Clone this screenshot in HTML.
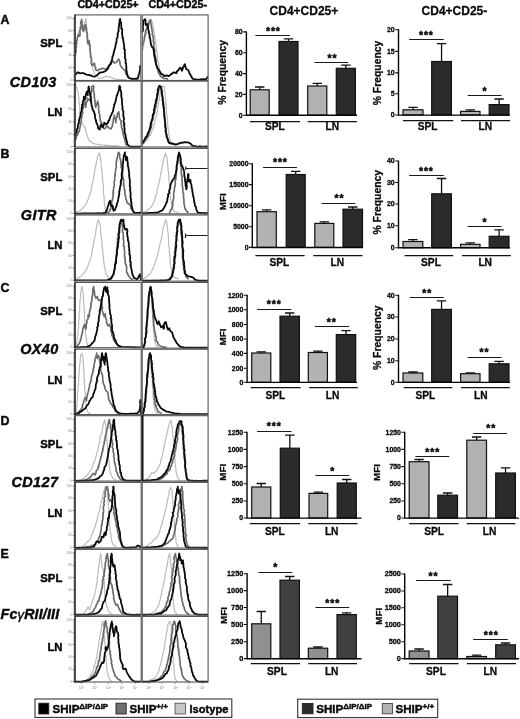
<!DOCTYPE html>
<html lang="en"><head><meta charset="utf-8"><title>Figure</title>
<style>
html,body{margin:0;padding:0;background:#fff;}
body{width:520px;height:719px;overflow:hidden;}
svg{display:block;font-family:'Liberation Sans', Arial, Helvetica, sans-serif;fill:#0a0a0a;}
text.t{font-weight:bold;stroke:#0a0a0a;stroke-width:0.3px;}
text.c{font-weight:bold;stroke:#0a0a0a;stroke-width:0.28px;stroke-linejoin:round;}
text.b{font-weight:bold;stroke:#0a0a0a;stroke-width:0.45px;stroke-linejoin:round;}
</style></head><body>
<svg width="520" height="719" viewBox="0 0 520 719">
<rect width="520" height="719" fill="#fff"/>
<path d="M75.77 56.15 L75.74 54.88 L75.92 53.63 L76.17 51.72 L75.94 51.25 L76.19 49.27 L76.7 48.21 L76.72 46.9 L76.72 45.22 L76.83 44.69 L76.88 43.23 L77.07 41.17 L77.23 40.43 L77.09 38.5 L77.31 37.69 L77.85 36.29 L78.11 35.37 L78.45 34.05 L78.62 32.55 L78.99 31.33 L79.57 29.04 L79.5 27.81 L80.3 26.68 L80.38 25.38 L81.61 26.7 L82.69 28.46 L83.08 27.09 L83.38 26.06 L83.89 25.16 L84.33 23.93 L84.81 22.75 L85.09 20.59 L85.58 20.22 L85.77 18.46 L86.13 19.85 L86.16 20.77 L86.36 22.48 L86.19 23.23 L86.64 25.56 L86.36 26.67 L86.67 27.26 L86.74 29.25 L87.2 29.77 L87.19 31.08 L87.38 32.71 L87.61 34.74 L87.54 36.07 L87.57 36.37 L87.86 37.63 L87.77 39.36 L88.08 40.77 L88.43 41.74 L88.4 43.87 L88.84 45.31 L89.45 46.02 L89.5 47.52 L89.89 48.95 L90.13 50.32 L90.38 51.54 L90.8 52.85 L90.7 54.38 L90.77 55.22 L91.36 56.77 L91.3 57.51 L91.4 59.44 L91.36 60.78 L91.88 61.47 L92.05 63.22 L92.26 64.39 L92.45 66.12 L92.25 66.68 L92.69 68.46 L93.25 70.2 L93.48 70.88 L94.13 71.96 L94.46 73.18 L95 74.62 L95.9 75.66 L96.85 76.45 L97.96 77.24 L98.85 78.46 L100.4 78.3 L101.88 77.82 L103.46 77.69 L105.1 76.75 L106.54 76.15 L107.97 76.62 L109.67 76.94 L111.15 77.69 L112.66 78.14 L114.28 78.7 L115.77 79.23 L117.15 79.26 L118.45 79.45 L119.84 79.51 L121.13 79.56 L122.5 79.67 L123.86 79.85 L125.18 79.88 L126.54 80" fill="none" stroke="#bbbbbb" stroke-width="1.2" stroke-linejoin="round" stroke-linecap="round"/>
<path d="M75.46 53.08 L75.86 51.96 L75.98 50.06 L75.49 48.6 L76.2 47.19 L75.92 46.09 L76.11 44.71 L76.68 42.89 L75.97 42.93 L76.54 40.77 L77.27 40.11 L77.25 38.5 L78.08 35.65 L78.08 34.62 L79.62 36.15 L79.99 35.46 L80.07 33.58 L79.89 31.96 L79.99 30.17 L80.46 29.26 L80.82 27.52 L81.06 27.39 L81.23 26.45 L81.36 24.58 L80.72 23.58 L81.01 21.47 L81.61 20.58 L81.62 19.23 L81.71 21.39 L82.06 21.68 L81.91 23.98 L82.28 25.21 L82.34 25.52 L82.67 28.01 L82.52 29.33 L83.36 30.72 L83.15 31.54 L83.91 29.37 L84.19 29.63 L84.54 27.69 L84.67 25.74 L85.62 24.62 L85.61 26.07 L85.96 27.39 L86.48 27.95 L86.04 29.58 L86.3 30.89 L86.85 33.08 L87.43 35.06 L86.78 35.77 L87.14 36.78 L87.33 38.73 L87.69 39.56 L87.49 40.85 L87.58 42.6 L88.08 43.85 L88.89 42.09 L89.31 40.77 L89.05 41.56 L89.43 43.69 L89.92 44.66 L90.06 46.46 L89.84 47.38 L90.02 49.34 L90.07 50.69 L90.23 51.25 L90.38 53.08 L90.59 54.8 L90.34 55.68 L90.83 57.86 L91.46 58.32 L91.6 60.44 L91.2 61.22 L91.24 63.21 L91.9 64.71 L91.92 65.38 L93.34 64.53 L94.23 63.08 L94.75 64.58 L94.49 66 L94.71 66.59 L95.71 67.8 L95.77 70 L98.08 70.77 L98.86 69.28 L100.38 69.23 L102.27 68.27 L103.46 68.46 L105.77 69.23 L106.49 68.69 L108.08 66.92 L108.89 66 L110.38 63.85 L111.69 62.91 L112.69 60.77 L113.87 62.07 L114.23 63.08 L116.54 62.31 L117.96 59.93 L118.85 59.23 L119.47 60.79 L119.81 61.6 L120.22 64.63 L120.38 65.38 L121.14 66.61 L122.69 68.46 L123.9 69.82 L125 70 L125.28 70.96 L125.8 73.29 L126.54 74.62 L127.86 76.02 L128.85 77.69" fill="none" stroke="#6a6a6a" stroke-width="1.65" stroke-linejoin="round" stroke-linecap="round"/>
<path d="M75.46 74.62 L76.66 73.3 L78.08 72.31 L80.38 73.38 L81.8 73.1 L83.46 73.08 L84.67 73.85 L86.54 74.62 L88.42 74.87 L89.62 75.38 L91.3 75.51 L92.69 76.46 L94.34 76.59 L95.77 76.15 L96.92 75.25 L97.81 74.54 L98.85 73.38 L100.7 72.29 L101.92 72.31 L103.14 72.17 L105 71.23 L106.36 70.34 L107.01 69.73 L108.08 68.46 L108.44 66.86 L109.07 66.14 L109.77 64.34 L110.69 64.26 L111.15 62.31 L111.38 61.35 L111.85 60.31 L112.38 58.09 L112.47 56.42 L113.06 55.71 L113.46 54.62 L113.49 53.05 L113.9 52.36 L114.04 51.36 L114.6 49.39 L114.88 48.42 L115.45 46.63 L115.47 45.55 L115.77 43.85 L116.34 42.34 L116.53 41.89 L116.61 39.38 L116.71 38.81 L117.35 37.85 L117.78 35.36 L117.54 34.04 L118.08 33.08 L118.03 31.99 L118.76 30.89 L118.48 29.41 L118.73 27.29 L119.26 25.34 L118.95 25.12 L119.31 22.94 L119.74 22.03 L119.48 20.07 L120.08 18.92 L120.27 20.19 L120.34 21.64 L121.18 22.63 L121.1 23.48 L121.31 25.38 L121.26 26.95 L121.26 28.6 L122.03 28.63 L122.19 30.37 L122.18 32.28 L121.94 33.45 L122.23 34.46 L122.58 36.35 L122.49 37.67 L123.27 38.94 L123.15 39.45 L123.34 41.23 L123.74 43.16 L123.84 43.76 L124.13 45.88 L124.23 47.08 L124.1 49.03 L124.61 49.13 L124.95 50.49 L124.6 52.74 L124.94 53.81 L125.1 54.98 L124.96 55.86 L124.89 58.05 L125.57 59.1 L125.68 60.14 L125.62 61.69 L125.58 62.91 L126.22 63.77 L126.08 65.51 L126.45 67.09 L126.25 68.57 L126.57 70.57 L126.69 71.54 L126.92 73.52 L127.07 74.02 L127.48 75.33 L128.08 77.23 L129.63 78.15 L131 78.77 L132.28 78.63 L133.69 78.88 L135.13 78.88 L136.44 78.61 L137.77 78.77 L138.11 77.17 L138.55 76.16 L138.7 74.35 L139.31 73.38 L139.69 71.19 L139.86 71.12 L140.13 68.86 L139.97 67.73 L140.08 66.15" fill="none" stroke="#0a0a0a" stroke-width="1.8" stroke-linejoin="round" stroke-linecap="round"/>
<path d="M142.69 50 L143.02 49.24 L143.31 47.22 L143.66 46.14 L143.77 45.12 L143.7 43.89 L144.32 42.3 L144.5 40.98 L144.57 39.78 L144.75 38.46 L145.34 37.12 L145.55 36.4 L145.77 34.62 L146.42 32.9 L146.81 32.11 L146.84 30.51 L147.38 28.88 L147.99 28.49 L148.31 27.11 L148.85 25.38 L149.41 23.75 L149.97 23.03 L150.47 21.93 L150.82 20.29 L151.15 19.23 L151.84 21.24 L152.38 22.24 L152.69 23.85 L153.05 25.15 L152.92 25.98 L153.12 27.47 L153.38 29.12 L153.9 30.48 L153.97 31.92 L154.23 33.08 L154.33 34.44 L154.79 35.77 L154.68 37.71 L155.19 38.52 L155.21 40.1 L155.54 41.16 L155.43 42.55 L156.06 43.87 L156.1 45.33 L156.17 46.7 L156.54 48.46 L156.66 49.46 L156.62 50.77 L156.87 52.55 L156.98 53.41 L157.36 55.2 L157.68 56.17 L157.68 57.92 L157.65 59.91 L158.08 60.77 L158.14 61.64 L158.5 63.04 L158.8 64.56 L158.75 65.55 L159.3 67.12 L159.55 68.64 L159.62 70 L160.32 71.01 L160.4 72.2 L161.17 73.83 L161.38 74.51 L161.92 76.15 L163.13 77.58 L164.23 78.46 L165.53 78.56 L166.73 78.86 L168.08 79.23" fill="none" stroke="#bbbbbb" stroke-width="1.2" stroke-linejoin="round" stroke-linecap="round"/>
<path d="M142.69 45.38 L142.65 43.27 L142.8 43.1 L143.82 41 L144.14 40.21 L144.25 39.73 L144.23 37.69 L144.96 35.54 L144.71 35.25 L145.62 32.99 L145.36 33.05 L145.53 30.9 L146.06 30.1 L146.54 28.46 L147.39 26.65 L147.68 26.42 L148.23 24.87 L148.77 23.29 L148.85 22.31 L149.54 20.67 L150.38 20 L150.84 21.38 L150.59 22.23 L151.2 24.42 L151.39 25.44 L151.4 26.43 L151.62 28.46 L152.02 28.92 L152.03 31.56 L152.43 31.69 L152.26 34.35 L152.84 35.74 L153.27 36.28 L153.15 37.69 L153.66 39.5 L153.31 40.23 L153.23 41.66 L154.18 42.52 L153.99 43.91 L153.7 46.27 L154 46.57 L154.07 49.03 L154.62 49.27 L154.69 51.54 L154.64 53.73 L154.82 54.34 L155.2 56.08 L155.56 57.44 L155.69 57.71 L155.56 58.86 L156.33 60.26 L156.23 62.31 L156.07 64.47 L156.49 65.65 L156.65 66.2 L157.04 68.18 L157.65 69.16 L158.05 70.89 L158.08 71.54 L158.71 73.26 L159.57 73.93 L160.38 76.15 L162.08 77.4 L163.46 78.46 L165.47 78.54 L167.31 78.92" fill="none" stroke="#6a6a6a" stroke-width="1.65" stroke-linejoin="round" stroke-linecap="round"/>
<path d="M142.69 31.54 L142.82 30.13 L143.07 28.17 L142.86 27.48 L142.73 26.24 L143.36 24.68 L143.39 23.63 L143.14 21.88 L143.46 20.77 L145 19.23 L145.67 20.51 L145.48 21.64 L145.58 23.31 L146.08 25.38 L147.31 23.85 L147.87 25.53 L148.05 27.26 L148.06 28.49 L148.22 28.99 L148.77 31.08 L148.99 31.73 L148.85 33.08 L149.32 34.21 L149.76 36.31 L149.45 37.62 L149.62 37.56 L150.31 39.16 L150.38 40.77 L150.78 42.53 L150.79 44.24 L151.36 45.28 L151.92 46.92 L153.46 48.46 L153.53 50.2 L154.04 50.81 L153.72 52.18 L154.16 53.17 L154.15 55.61 L154.78 57.3 L155.19 58.49 L155 59.23 L155.28 60.23 L155.62 62.25 L156.17 63.91 L156.54 65.38 L157.2 67.49 L157.91 68.4 L158.85 70 L159.92 71.77 L160.22 72.15 L161.15 73.85 L162.92 74.29 L164.23 76.15 L166.54 75.38 L168.85 76.15 L170.12 75.04 L171.92 73.85 L173.11 72.54 L174.23 72.31 L176.54 73.08 L176.95 71.32 L178.29 70.46 L178.85 69.23 L180.38 67.69 L181.54 69.69 L181.92 70.77 L182.82 68.74 L182.7 67.43 L183.46 66.92 L184.18 65.28 L185 64.15 L185.03 65.5 L185.44 66.39 L185.95 68.44 L186.54 69.23 L188.08 70 L188.78 71.16 L189.25 72.96 L190.38 74.62 L191.23 76.26 L192.09 77.73 L192.69 78.92 L194.57 79.11 L196.54 79.54 L197.89 79.57 L199.18 79.54 L200.5 79.34 L201.76 79.22 L203.15 79.44 L204.51 79.26 L205.77 79.23 L206.74 78.35 L207.62 76.92" fill="none" stroke="#0a0a0a" stroke-width="1.8" stroke-linejoin="round" stroke-linecap="round"/>
<path d="M75.46 84.23 L76.17 85.88 L76.54 87.31 L77 88.87 L77.38 90.04 L78.08 91.92 L78.31 93.81 L78.37 94.51 L78.4 95.91 L78.78 97.26 L79 98.27 L78.78 100.02 L78.97 101.73 L79.15 102.69 L79.47 104.53 L79.49 104.91 L79.61 106.85 L79.69 107.92 L79.95 109.98 L79.76 111.08 L80.04 112.28 L80.47 114.14 L80.38 115 L80.72 115.95 L81.13 117.21 L81.09 119.21 L81.31 119.88 L81.91 121.9 L81.92 122.69 L82.59 124.11 L83.46 125.77 L85 127.31 L85.26 128.44 L85.63 130.91 L85.92 131.63 L86.54 133.46 L86.89 134.54 L87.58 136.81 L88.08 138.08 L89.03 139.76 L89.62 141.15 L90.92 141.46 L91.92 142.69 L93.13 143.53 L94.36 143.58 L95.77 144.23 L97.3 144.27 L98.86 144.33 L100.33 144.89 L101.85 145.01 L103.46 145 L104.95 145.32 L106.57 145.35 L108.03 145.34 L109.65 145.53 L111.15 145.77 L112.66 145.9 L114.27 145.8 L115.81 145.96 L117.3 145.94 L118.85 146.08" fill="none" stroke="#bbbbbb" stroke-width="1.2" stroke-linejoin="round" stroke-linecap="round"/>
<path d="M75.46 139.62 L75.89 139.26 L76.31 136.49 L76.71 135.25 L77.42 135.44 L78.08 133.46 L78.08 131.63 L79.24 131.79 L79.66 129.16 L79.48 129.14 L79.99 127.42 L80.38 125.77 L80.41 123.56 L80.63 123.52 L81.22 121.85 L81.12 120.45 L81.29 119.1 L81.84 117.15 L81.82 117.13 L81.92 115 L82.46 113.1 L82.78 112.97 L82.28 110.62 L82.53 108.92 L83.45 108.24 L83.58 106.39 L83.46 105.77 L83.43 104.9 L84.55 103.58 L84.69 101.15 L85.13 102.74 L85.47 103.5 L85.54 105.66 L85.77 107.31 L85.67 106.17 L86.05 104.68 L86.31 103.02 L86.52 102.21 L87.3 101.5 L87.41 100 L87.31 98.08 L88.85 99.62 L90.38 101.15 L90.33 100.68 L90.46 97.82 L90.8 97.59 L90.8 96.1 L90.89 95.35 L91.18 93.14 L91.39 92.53 L91.94 90.58 L91.59 89.41 L91.4 87.73 L91.92 86.54 L93.46 85.77 L93.89 87.64 L93.3 89.14 L93.72 90.74 L93.82 90.73 L94.1 93.3 L94.12 94.64 L94.49 95.09 L94.24 96.72 L94.54 98.08 L94.62 99.17 L95.03 101.39 L95.14 101.4 L94.99 103.12 L95.52 104.02 L95.22 105.67 L95.77 107.31 L96.04 104.92 L96.73 104.99 L97.18 103.12 L97.62 101.15 L98.09 103.08 L98.34 103.69 L98.31 104.43 L98.66 106.21 L98.47 108.45 L98.48 108.51 L98.85 110.38 L99.33 111.91 L98.86 112.23 L99.29 113.54 L99.91 115.2 L99.6 116.92 L100.01 118.34 L100.31 120.1 L100.38 121.15 L101.1 121.97 L102.35 124.57 L102.69 125.77 L103.09 127.2 L104.23 128.85 L105.61 128.19 L106.54 125.77 L107.3 126.04 L108.85 128.08 L111.15 128.85 L111.6 127.17 L112.43 126.36 L112.39 124.08 L113 122.69 L113.33 122.1 L113.24 119.93 L113.4 119.1 L113.6 118.35 L114.3 116.42 L114.54 115 L114.41 116.06 L115 118.72 L115.31 119.23 L115.96 121.44 L115.77 122.69 L116.01 120.84 L116.03 120.77 L116.1 118.79 L116.76 117.16 L117.11 116.84 L117.41 115.21 L117.31 113.46 L118.85 111.92 L118.83 112.67 L119.28 114.66 L119.31 117.21 L119.58 118.66 L120.08 119.62 L120.86 120.47 L121.22 122.51 L120.97 123.67 L121.62 125.77 L121.46 127.05 L122.02 128.97 L122.68 128.82 L122.55 130.7 L122.61 131.73 L123.15 133.46 L123.25 135.09 L123.63 135.33 L123.83 137.2 L124.44 138.13 L124.87 139.36 L125 141.15 L125.63 142.59 L125.87 143.97 L126.54 145" fill="none" stroke="#6a6a6a" stroke-width="1.65" stroke-linejoin="round" stroke-linecap="round"/>
<path d="M75.46 135 L75.84 133.52 L76.46 132.13 L76.8 129.67 L77.31 128.85 L77.83 128.08 L77.88 126.28 L77.99 125.45 L78.61 123.02 L79 122.89 L78.92 121.56 L79.31 118.91 L79.62 118.08 L80.17 116.28 L80.57 115.13 L80.46 113.51 L81.15 111.92 L81.65 110.57 L81.62 109.87 L81.77 107.96 L82.1 107.17 L82.02 104.68 L82.68 104.1 L82.69 102.69 L82.8 101.78 L83.54 99.68 L83.89 98.61 L83.77 96.54 L84.58 97.74 L85 99.62 L84.87 98.62 L85.7 96.81 L85.75 95.88 L85.83 94.8 L86.33 93.02 L86.54 91.92 L86.84 93.55 L87.77 95 L87.8 93.95 L87.87 92.01 L88.06 90.62 L88.55 88.73 L88.31 87.92 L88.85 86.54 L88.82 87.93 L89.01 88.67 L89.52 91.37 L90 92.1 L89.92 93.46 L90.02 94.09 L90.1 95.8 L90.8 96.81 L90.98 98.7 L90.75 99.67 L91.35 100.87 L91.15 102.69 L91.52 104.25 L91.53 105.33 L92.47 107.77 L92.38 108.85 L93.49 111.03 L94.23 111.92 L94.17 113.53 L94.94 114.05 L94.97 116.53 L95.12 117.47 L95.25 118.6 L95.77 119.62 L95.97 121.04 L96.44 123.03 L97.12 123.85 L97.46 125.14 L97.94 126.28 L98.08 128.08 L99.62 129.62 L100.04 128.41 L100.3 126.2 L100.51 125.8 L101.15 124.23 L101.69 126.18 L102.69 127.31 L103.21 126.49 L104 124.59 L104.23 122.69 L106.23 124.23 L108.08 122.69 L108.44 120.73 L109.05 120.62 L109.8 118.52 L109.65 118.54 L110.38 116.54 L111.35 114.98 L112.11 112.9 L112.69 111.92 L113.06 110.87 L113.43 108.74 L113.39 108.17 L114.32 106.07 L113.95 104.66 L114.9 103.84 L115 102.69 L115.35 102.2 L115.86 99.75 L116.31 98.05 L116.36 97.88 L116.66 95.53 L117.31 95 L117.65 93.41 L118.34 91.73 L118.54 90.87 L118.87 89.64 L119.09 88.13 L119.07 87.01 L119.62 85.77 L120.24 87.06 L120.17 88.71 L120.45 90.09 L121.15 91.92 L121.32 93.38 L121.45 94.36 L121.1 95.32 L121.46 96.98 L121.75 98.47 L122.01 100.39 L122.04 101.99 L122.03 102.88 L121.97 103.69 L122.23 105.77 L122.64 107.09 L122.26 109.09 L122.82 109.92 L122.88 110.45 L123.51 111.83 L123.18 114.48 L123.46 115 L123.28 116.38 L123.69 117.37 L124.17 119.02 L123.56 120.5 L123.68 122.26 L124.5 123.96 L123.96 124.97 L124.29 126.03 L124.41 127.15 L124.69 128.85 L124.55 130.37 L124.67 132.23 L124.79 133.54 L125.06 133.45 L125.66 135.49 L125.83 136.77 L125.77 138.08 L126.26 138.95 L126.67 141.17 L127.19 142.13 L127.31 144.23 L128.37 145.46 L129.62 146.54 L130.99 146.55 L132.32 146.58 L133.65 146.59 L135.01 146.57 L136.34 146.66 L137.68 146.65 L139.03 146.66 L140.38 146.69" fill="none" stroke="#0a0a0a" stroke-width="1.8" stroke-linejoin="round" stroke-linecap="round"/>
<path d="M142.69 144.23 L143.67 143.47 L144.73 142.36 L145.31 141.3 L146.14 140.25 L147.31 139.62 L148.12 138.58 L148.7 136.96 L149.39 135.8 L150.38 135 L150.9 133.45 L151.62 132.51 L151.84 131.08 L152.18 130.13 L153.09 128.44 L153.46 127.31 L153.93 125.69 L153.99 124.27 L154.32 123.32 L154.91 122.09 L154.95 120.76 L155.5 118.97 L155.86 117.66 L156.03 116.25 L156.54 115 L156.85 113.85 L157.23 111.89 L157.45 111.18 L157.58 109.99 L157.49 108.38 L158.14 106.28 L158.21 105.8 L158.27 104.31 L158.84 102.47 L158.85 101.15 L158.91 99.47 L159.54 98.33 L159.51 96.99 L160.11 95.41 L159.86 94.81 L160.28 92.82 L160.9 91.34 L160.67 90.64 L161.15 88.85 L161.78 87 L162.69 85.77 L164.23 86.54 L164.63 87.68 L164.76 89.24 L164.58 90.55 L164.87 92.37 L164.94 93.76 L165.04 95.56 L165.55 96.91 L165.46 98.08 L165.76 98.99 L165.57 100.52 L165.64 102.75 L166.18 104.07 L166.11 104.58 L166.16 105.9 L166.55 107.51 L166.33 109.64 L166.4 111 L166.69 111.92 L166.71 113.49 L166.72 115.13 L167.01 115.91 L167.27 117.56 L167.17 118.43 L167.47 119.71 L167.76 121.44 L167.5 122.81 L167.59 124.18 L167.92 125.77 L168.1 127.01 L168.14 128.23 L168.38 130.11 L168.5 131.45 L168.68 132.08 L168.66 134.23 L168.99 135.06 L169.15 136.54 L169.55 138.27 L169.85 139.08 L170.23 140.04 L170.69 141.92 L171.71 143.06 L172.69 144.23 L173.97 144.46 L175.25 144.83 L176.54 145" fill="none" stroke="#bbbbbb" stroke-width="1.2" stroke-linejoin="round" stroke-linecap="round"/>
<path d="M142.69 143.46 L143.49 142.88 L144.4 141.56 L145.77 139.62 L146.09 138.92 L146.78 136.39 L147.65 136.53 L148.54 135.37 L148.85 133.46 L149.66 131.38 L149.51 130.19 L150.23 129.53 L150.6 128.87 L151.22 127.37 L151.15 125.77 L151.82 124.54 L151.44 123.84 L151.77 121.07 L152.77 120.1 L152.95 118.33 L152.87 118.25 L153.46 116.54 L153.33 115.21 L154.43 113.33 L154.51 112.94 L154.72 111.63 L155.08 108.93 L154.91 108.53 L155.9 106.61 L155.77 105.77 L156.1 103.75 L156.58 102.98 L156.54 102.04 L156.44 100.8 L157.29 99.69 L157.07 97.21 L157.22 97.07 L157.77 95 L157.97 93.52 L158.3 92.79 L158.37 90.86 L159.03 90.37 L158.87 87.82 L159.31 87.31 L161.15 87.31 L161.79 89.26 L161.73 90.21 L162.31 91.8 L161.88 92.74 L162.38 95 L162.4 96.53 L162.57 98.5 L162.98 98.96 L163.14 100.57 L163.26 101.72 L163.33 103.06 L163.76 103.87 L163.62 105.77 L164 106.79 L164.18 107.77 L163.97 109.82 L164.3 110.77 L164.02 112.03 L164.41 114.21 L164.03 114.88 L164.33 117.67 L164.68 118.35 L164.85 119.62 L164.79 121.27 L165.4 122.66 L164.81 123.61 L165.38 124.27 L165.79 126.13 L165.48 128.05 L165.88 129.18 L166.26 130.59 L166.08 131.92 L166.19 132.42 L166.64 134.24 L166.88 135.49 L166.66 136.22 L167.05 137.6 L167.62 139.62 L168.92 141.3 L169.62 142.69 L170.75 143.44 L172.25 143.29 L173.46 144.23" fill="none" stroke="#6a6a6a" stroke-width="1.65" stroke-linejoin="round" stroke-linecap="round"/>
<path d="M142.69 142.69 L143.65 141.01 L144.63 139.56 L145 138.85 L145.6 137.16 L146.83 136.79 L147.31 135 L147.83 133.21 L148.17 132.86 L148.34 131.98 L149.43 130.77 L149.62 128.85 L150.1 127.72 L150.65 125.84 L150.45 124.29 L150.68 124.05 L150.94 122.64 L151.51 121.54 L151.92 119.62 L152.42 118.57 L152.78 116.19 L152.6 115.37 L153.02 114.5 L153.67 113.27 L154 111.85 L153.83 110.2 L154.23 108.85 L154.72 108 L154.7 105.92 L155.19 104.37 L155.69 102.66 L155.79 102.09 L155.72 100.88 L156.23 100.16 L156.54 98.08 L157.07 96.9 L157.28 96.05 L156.93 94.64 L157.68 93.59 L157.85 91.31 L157.62 90.41 L158.08 88.85 L158.46 87.72 L159.31 85.77 L160.85 86.54 L161.12 88.44 L161.16 88.99 L161.82 90.95 L161.61 92.17 L161.92 93.46 L162.03 95.01 L162.24 95.76 L162.77 98.03 L162.75 98.38 L162.45 100.42 L163.1 101.62 L163 102.69 L162.91 104.41 L163.29 105.22 L163.48 106.71 L163.67 108.57 L164.07 108.91 L163.88 111.61 L164.08 112.39 L164.38 112.88 L164.23 115 L164.6 116.56 L164.57 117.43 L164.74 118.5 L164.8 120.08 L165.26 122.33 L165.03 123.61 L165.1 124.61 L165.05 126.51 L165.46 127.31 L165.83 129.04 L165.44 130.46 L165.53 131.37 L166.07 131.88 L166.17 134.52 L166.48 134.92 L166.54 136.54 L167.3 137.85 L167.88 139.46 L168.08 141.15 L168.97 142.9 L170.38 143.46 L171.48 143.5 L173.06 143.66 L174.23 144.23 L176.17 144.36 L178.08 143.92 L179.66 143.16 L181.15 142.69 L182.85 142.79 L184.23 142.08 L186.2 142.39 L188.08 142.38 L190.38 143.46 L191.48 144.56 L192.69 145.77 L194.04 146.15 L195.21 146.22 L196.54 146.54 L197.87 146.57 L199.21 146.5 L200.59 146.5 L201.95 146.53 L203.29 146.58 L204.6 146.57 L205.96 146.5 L207.31 146.54" fill="none" stroke="#0a0a0a" stroke-width="1.8" stroke-linejoin="round" stroke-linecap="round"/>
<path d="M76.54 212.31 L77.74 211.87 L79.12 211.19 L80.38 210.77 L81.54 209.52 L82.41 208.33 L83.46 207.69 L84.15 206.96 L85 205 L85.62 204.39 L86.54 203.08 L86.93 202.22 L87.32 200.92 L88.14 199.59 L88.51 197.47 L88.92 196.81 L89.62 195.38 L89.68 193.64 L90.43 193.16 L90.8 191.8 L90.96 190.52 L91.37 188.85 L91.55 186.95 L91.92 186.15 L91.95 184.51 L92.41 183 L92.95 182.14 L93.08 181.12 L93.05 179.74 L93.71 177.69 L93.51 176.91 L94.19 175.54 L94.23 173.85 L94.44 172.59 L94.53 170.82 L94.96 170.01 L95.03 168.85 L95.25 167.53 L95.62 165.99 L96.2 164.77 L96.27 163.12 L96.54 161.54 L96.81 160.37 L97.09 158.88 L97.74 156.44 L98.08 155.38 L99.15 153.08 L99.81 154.16 L99.74 155.38 L100.38 156.92 L100.28 158.07 L100.81 160.23 L100.92 161.47 L101.18 162.7 L101.09 163.57 L101.12 165.28 L101.3 166.88 L101.52 168.09 L101.79 169.53 L101.92 170.77 L101.85 171.9 L102.25 173.25 L102.35 175.48 L102.31 176.87 L102.55 178.25 L102.61 179.44 L102.81 180.22 L102.83 182.05 L102.91 183.53 L103.27 185.08 L103.15 186.15 L103.42 187.16 L103.46 189.09 L103.69 189.8 L103.37 192.27 L103.57 193.37 L103.79 194.43 L103.81 196.01 L104.2 197.38 L104.19 198.53 L104.25 200.25 L104.23 201.54 L104.58 203.49 L104.43 205.13 L104.94 205.89 L105.07 207.25 L105.31 209.23 L106.23 210.96 L107.31 212.31" fill="none" stroke="#bbbbbb" stroke-width="1.2" stroke-linejoin="round" stroke-linecap="round"/>
<path d="M106.54 212.31 L108.14 212.13 L109.62 211.54 L109.95 209.83 L110.55 208.97 L111.15 207.69 L111.56 206.01 L111.81 205.21 L111.62 204.25 L111.65 202.58 L111.97 200.28 L112.45 199.82 L112.69 198.46 L112.93 196.84 L113.36 196.18 L112.8 193.37 L113.67 192.71 L113.04 190.89 L113.71 189.49 L113.56 188.99 L113.68 187.55 L114.35 186.4 L114.21 184.7 L114.23 183.08 L114.21 181.95 L114.67 180.46 L114.68 179.38 L114.58 177.92 L115.43 175.32 L114.93 175.64 L114.93 173.96 L115.53 171.23 L115.73 169.73 L115.77 169.23 L116.25 167.51 L116.49 167.21 L115.95 164.95 L116.14 164.22 L116.26 161.63 L116.45 161.67 L116.74 159.34 L117.09 158.38 L117.31 156.92 L117.64 156.19 L117.98 153.8 L118.54 152.31 L119.48 153.38 L119.77 155.38 L119.67 157.31 L120 158.73 L120.65 159.11 L120.41 159.94 L121.09 161.87 L120.81 162.71 L121.15 164.62 L121.1 166.63 L121.21 167.41 L121.84 168.69 L121.93 169.82 L121.84 171.92 L122.66 172.81 L122.28 174.78 L122.69 175.38 L122.59 176.16 L123.15 178.72 L123.27 178.78 L123.81 180.24 L123.41 183.1 L123.98 184.05 L123.51 185.59 L123.97 185.44 L124.23 187.69 L124.68 189.81 L124.21 190.3 L125.17 191.43 L124.82 193.58 L125.14 195.32 L125.71 196.41 L125.76 196.57 L125.77 198.46 L126.45 200.14 L126.78 201.66 L127.31 203.08 L128.29 203.3 L129.62 204.62 L130.76 205.91 L130.8 208.55 L131.92 209.23 L133.08 210.93 L134.23 212.31" fill="none" stroke="#6a6a6a" stroke-width="1.65" stroke-linejoin="round" stroke-linecap="round"/>
<path d="M75.46 213.54 L76.8 213.49 L78.14 213.54 L79.48 213.53 L80.82 213.52 L82.16 213.46 L83.5 213.42 L84.86 213.43 L86.2 213.39 L87.53 213.39 L88.91 213.35 L90.23 213.43 L91.58 213.34 L92.95 213.31 L94.23 213.28 L95.6 213.38 L96.93 213.28 L98.31 213.24 L99.59 213.31 L100.94 213.28 L102.29 213.27 L103.69 213.24 L105 213.23 L105.71 211.96 L106.63 210.18 L107.31 209.23 L107.48 207.49 L108.08 205.79 L108.59 204.22 L108.85 203.08 L109.92 200.77 L110.55 201.88 L110.32 202.79 L110.55 204.35 L111.15 206.15 L112.38 205.38 L112.96 206.6 L112.88 208.78 L113.47 209.74 L113.46 210.77 L115 210 L115.34 208.48 L116.03 207.05 L116.54 206.15 L116.8 204.16 L117.1 203.48 L117.78 201.45 L118.08 200 L118.27 198.86 L118.66 196.6 L119.01 195.98 L118.83 195.46 L119.38 193.17 L119.02 191.99 L119.62 190.77 L119.79 189.25 L119.73 188.25 L120.08 187.23 L120.52 185.16 L120.98 184.09 L120.6 182.5 L121.15 181.54 L120.95 180.04 L121.79 179.47 L121.74 176.83 L121.56 175.53 L121.82 174.84 L121.69 173.21 L122.17 172.1 L122.65 170.3 L122.62 168.71 L122.69 167.69 L122.79 166.54 L122.61 164.98 L123.1 163.08 L123.04 162.74 L123.26 160.36 L123.34 159.52 L123.57 157.88 L123.64 156.3 L123.92 155.38 L124.47 154.01 L125 152.31 L124.86 153.99 L125.22 156.15 L125.9 156.33 L125.9 158.21 L125.92 160 L126.07 159.06 L126.85 156.92 L127.35 158.7 L127.31 160.33 L127.42 161.16 L127.67 162.77 L128.01 163.2 L127.67 164.91 L128.08 166.15 L128.3 167.27 L128.67 169.4 L128.69 170.25 L128.85 171.05 L129.09 172.29 L129.32 174.43 L128.98 175.08 L129.31 176.92 L129.5 178.25 L129.68 179.05 L129.93 180.96 L129.69 182.84 L129.93 183.76 L129.79 185.18 L129.69 186.22 L130.43 187.39 L129.95 189.94 L130.38 190.77 L130.39 192.2 L130.67 193.89 L130.56 195.36 L130.42 196.86 L130.77 197.89 L130.87 199.48 L131.04 200.63 L131.1 202.38 L131.58 202.75 L131.46 204.62 L131.97 206.86 L131.87 207.2 L132.65 209.8 L132.69 210.77 L133.75 212.06 L135 213.08 L136.4 212.91 L137.73 212.79 L139.08 212.73 L140.38 212.62" fill="none" stroke="#0a0a0a" stroke-width="1.8" stroke-linejoin="round" stroke-linecap="round"/>
<path d="M143.46 212.31 L144.74 211.65 L146.06 211.38 L147.31 210.77 L148.25 209.4 L149.17 208.49 L150.38 207.69 L151.43 206.81 L152.14 205.66 L152.49 204.11 L153.46 203.08 L154.15 202.14 L154.61 200.79 L154.9 199.41 L155.45 197.72 L155.4 196.28 L155.83 194.91 L156.54 193.85 L156.9 192.21 L157.02 190.63 L157.38 189.71 L157.82 188.79 L157.84 186.65 L158.15 186.01 L158.76 184.33 L159.17 182.22 L159.53 181.2 L159.62 180 L159.94 178.53 L160.26 177.05 L160.26 175.62 L160.76 174.48 L160.71 173 L161.19 171.65 L161.46 170.8 L161.74 169.39 L161.92 167.69 L162.1 166.75 L162.74 165.03 L162.53 163.2 L163.22 162.71 L163.49 160.97 L163.68 159.19 L164 158.82 L164.23 156.92 L164.48 155.76 L165.24 154.52 L165.46 153.08 L165.79 154.07 L166.41 156.11 L166.69 156.92 L167.07 158.16 L167.17 159.96 L167.14 161.24 L167.32 161.98 L167.28 163.9 L167.87 164.5 L167.66 166.15 L168.08 167.69 L168.02 169.33 L168.12 170.55 L168.43 171.68 L168.7 173.16 L168.62 174.8 L168.67 175.65 L169.08 177.66 L168.96 178.76 L169.11 179.93 L169.15 181.54 L169.03 182.99 L169.6 183.89 L169.75 185.6 L169.88 187.43 L169.59 188.22 L170.04 190.46 L170.1 191.42 L170.07 193.04 L170.34 194.49 L170.16 195.88 L170.38 196.92 L170.83 198.35 L170.5 199.27 L171.04 200.88 L171.38 202.46 L171.46 203.27 L171.55 205.23 L171.96 206.79 L171.92 207.69 L172.59 208.98 L173.62 209.99 L174.23 211.54 L175.44 211.78 L176.83 212.21 L178.08 212.62" fill="none" stroke="#bbbbbb" stroke-width="1.2" stroke-linejoin="round" stroke-linecap="round"/>
<path d="M169.62 212.62 L170.27 211.63 L170.94 209.64 L171.49 209.36 L171.92 207.69 L172.33 207.03 L172.65 205.26 L172.91 203.82 L172.45 202.03 L173.41 200.8 L173.22 200.45 L173.46 198.46 L173.78 197.6 L173.74 195.71 L173.54 193.77 L173.77 192.99 L174.25 190.77 L174.51 189.44 L174.44 187.92 L174.67 186.75 L175.24 185.75 L175 184.62 L175.45 183.13 L175.15 182.46 L175.26 180.49 L175.74 179.97 L175.95 176.88 L175.88 177.12 L176.4 174.69 L175.9 173.12 L176.62 171.58 L176.54 170.77 L177.04 168.96 L177.02 168.35 L176.77 166.65 L177.27 164.82 L177.34 164.08 L177.87 162.07 L177.32 161.09 L177.86 159.67 L178.29 157.77 L178.08 156.92 L178.49 155.59 L178.63 154.28 L179.31 153.08 L179.51 154.24 L180.05 156.72 L180.47 156.72 L180.18 159.42 L180.54 160 L180.28 160.66 L180.37 163.63 L180.88 164.08 L180.62 166.29 L181.54 167.33 L181.58 168.51 L181.15 169.21 L181.26 170.56 L181.43 171.77 L181.24 174.7 L181.77 175.38 L182.18 177.25 L181.83 177.9 L182.09 179.81 L181.97 180.61 L182.29 182.51 L182.2 182.3 L182.35 185.19 L182.23 186.03 L182.29 186.69 L182.83 187.69 L182.77 189.86 L182.8 191.47 L183 192.31 L183.45 193.28 L183.51 195.5 L183.5 196.57 L183.61 198.21 L183.86 198.73 L183.96 200.89 L183.92 202.59 L183.93 203.34 L184.23 204.62 L184.68 206.15 L184.72 207.61 L185.09 208.71 L185.77 210 L186.9 211.31 L188.08 212.31" fill="none" stroke="#6a6a6a" stroke-width="1.65" stroke-linejoin="round" stroke-linecap="round"/>
<path d="M142.69 213.23 L144.07 213.28 L145.36 213.23 L146.73 213.12 L148.03 213.15 L149.39 212.99 L150.75 212.94 L152.09 212.91 L153.46 212.92 L155 212.68 L156.58 212.67 L158.08 212.31 L159.75 211.46 L161.23 210.96 L162.69 210 L163.62 208.51 L163.98 207.72 L165.13 205.72 L165.77 204.62 L166.29 202.64 L166.77 202.69 L167.3 200.15 L167.46 199.94 L167.41 198.38 L168.08 196.92 L168.08 195.19 L168.21 194.01 L169.13 193.22 L169.34 192.55 L169.08 191.07 L169.62 189.23 L170.32 187.93 L170.25 185.63 L170.72 184.41 L171.15 183.08 L171.73 181.82 L172.69 180 L174.23 178.46 L174.7 176.79 L174.69 175.9 L175.31 174.62 L175.72 173.5 L175.91 172.48 L176.25 170.37 L176.49 169.34 L176.54 167.69 L176.59 165.84 L176.79 165.4 L177.27 163.42 L177.28 161.74 L177.5 161.02 L177.81 160.36 L177.77 158.46 L177.72 157.67 L178.12 156.13 L179.08 153.4 L179 152.31 L179.24 153.28 L180.15 155.8 L180.23 156.92 L180.85 158.95 L180.61 160.44 L180.85 161.27 L181.16 163.4 L181.46 164.62 L181.93 165.87 L182.69 166.92 L183.16 168.68 L183.49 169.36 L183.92 170.77 L184.12 172.03 L184.42 172.78 L184.13 173.99 L184.47 176.6 L184.77 177.58 L185.19 179.2 L185 180 L185.01 180.87 L185.38 182.2 L185.6 183.28 L185.62 185.63 L185.68 186.03 L186.25 187.42 L186.23 189.23 L186.71 188.09 L186.85 186.65 L186.68 184.89 L186.49 184.68 L186.78 181.97 L187.5 181.38 L187.31 180 L187.6 179.13 L187.95 176.54 L187.83 175.63 L188.23 173.85 L188.56 174.95 L188.4 176.94 L188.43 178.95 L189.1 179.44 L189.15 181.54 L190.38 180 L190.69 181.69 L190.55 182.96 L191.36 184.54 L191.55 185.73 L191.62 187.69 L192.27 189.24 L192.17 189.47 L192.27 190.74 L192.59 192.3 L192.69 193.79 L193.15 195.38 L193.13 196.32 L193.67 197.36 L193.97 199.95 L194.36 201.24 L194.12 202.05 L194.69 203.08 L194.87 205.31 L195.46 206.51 L196.07 207.1 L196.23 209.23 L197 211.17 L198.08 212.62 L199.66 212.8 L201.1 212.92 L202.69 213.23 L204.26 213.26 L205.76 213.26 L207.31 213.23" fill="none" stroke="#0a0a0a" stroke-width="1.8" stroke-linejoin="round" stroke-linecap="round"/>
<path d="M185.77 168.5 H207.62 M185.77 166.46 V169.85" fill="none" stroke="#1c1c1c" stroke-width="1.15"/>
<path d="M76.54 278.85 L77.89 277.84 L79.18 277.6 L80.38 276.54 L81.48 275.97 L82.2 274.81 L82.94 274.09 L84.16 272.74 L85 271.92 L85.37 270.34 L86.18 269.92 L86.83 268.63 L87.29 266.73 L88.08 265.77 L88.32 264.29 L89.01 263.12 L89.13 262.22 L89.59 261.19 L90.11 259.88 L90.34 258.15 L90.74 257.56 L91.15 255.77 L91.69 254.5 L91.73 252.61 L92.22 251.85 L92.26 250.02 L92.58 249.27 L92.76 247.43 L93.18 246.34 L93.46 245 L93.42 243.13 L93.85 242.46 L94.09 240.31 L94.24 239.13 L94.76 237.78 L95.11 236.46 L94.9 234.78 L95.3 233.94 L95.69 232.72 L95.77 231.15 L96.05 229.38 L96.52 228.31 L96.39 226.95 L96.84 226.2 L96.95 224.48 L97.31 223.46 L97.45 222.28 L98.24 220.48 L98.54 219.62 L98.81 221.17 L99.47 221.78 L99.77 223.46 L100.19 225.07 L100.2 226 L100.49 227.5 L100.46 229.46 L100.72 229.94 L100.49 231.35 L100.64 233.46 L101.02 234.38 L101.15 235.77 L101.22 237.16 L101.4 238.81 L101.53 240.37 L101.9 241.77 L101.99 242.4 L101.95 244.54 L102.05 245.64 L102.11 247.32 L102.32 248.2 L102.73 249.3 L102.69 251.15 L102.57 252.46 L102.97 253.5 L103.09 255.6 L103.52 257.16 L103.62 257.61 L103.54 259.4 L103.51 261.15 L103.8 262.54 L104.17 263.36 L104.23 265 L104.4 266.23 L104.58 267.03 L104.96 268.55 L105.12 270.44 L105.65 271.31 L105.77 272.69 L106.28 274.52 L107.2 275.41 L108.08 277.31 L109.67 278.63 L111.15 279.62" fill="none" stroke="#bbbbbb" stroke-width="1.2" stroke-linejoin="round" stroke-linecap="round"/>
<path d="M108.08 280.08 L109.57 279.48 L111.15 278.85 L112.12 277.33 L112.58 275.26 L113.46 274.23 L113.29 273.65 L114.25 271.09 L114.36 269.83 L114.71 268.88 L114.92 267.88 L115 266.54 L114.78 265.28 L115.45 262.95 L115.04 261.97 L115.82 261.86 L115.72 260.26 L116.11 257.82 L116.03 257.47 L116.22 255.47 L116.58 253.44 L116.54 252.69 L116.62 251.43 L116.84 250.44 L116.69 248.74 L116.98 246.77 L117.39 247.01 L117.3 244.72 L117.25 243.5 L117.37 241.87 L118.01 240.74 L117.46 239.96 L117.4 238.11 L118.01 237.65 L118.08 235.77 L118.09 233.62 L118.88 232.2 L118.58 231.75 L119.28 230.13 L118.81 228.65 L119.12 227.05 L119.78 226.37 L119.62 225 L120.19 223.06 L120.48 222.67 L120.69 220.38 L121.07 222.74 L121.92 223.46 L121.87 225.22 L122.59 226.13 L122.72 227.38 L122.41 229.7 L122.7 229.49 L122.43 231.73 L122.74 232.24 L123.3 234.09 L123.15 235.77 L123.63 236.91 L123.08 238.4 L123.77 240.65 L123.64 240.86 L123.72 242.26 L123.68 243.19 L123.47 246.24 L124.26 246.38 L124.23 247.4 L124.23 249.62 L124.65 251.19 L124.67 252.22 L124.53 254.29 L124.55 254.32 L124.48 257.2 L124.75 257.04 L125.13 258.52 L125.12 261.05 L125.31 261.92 L125.31 263.32 L126.19 265.66 L126.38 265.7 L126.72 268.19 L126.54 269.62 L126.61 271.84 L126.97 273.18 L127.27 272.89 L128.08 275 L129.21 276.67 L130.38 278.08 L131.56 279.02 L132.69 279.62" fill="none" stroke="#6a6a6a" stroke-width="1.65" stroke-linejoin="round" stroke-linecap="round"/>
<path d="M75.46 280.38 L76.8 280.39 L78.16 280.39 L79.52 280.39 L80.85 280.39 L82.21 280.36 L83.57 280.39 L84.91 280.38 L86.28 280.36 L87.61 280.38 L88.98 280.39 L90.31 280.39 L91.69 280.39 L93.01 280.35 L94.4 280.39 L95.72 280.39 L97.08 280.39 L98.43 280.39 L99.78 280.38 L101.13 280.39 L102.5 280.37 L103.82 280.36 L105.2 280.37 L106.54 280.38 L107.77 279.95 L109.09 279.21 L110.38 278.85 L111.65 277.31 L112.69 275.77 L113.43 274.77 L113.87 273.3 L113.98 271.65 L114.54 269.62 L114.75 268.54 L114.75 267.18 L114.86 266.24 L115.16 264.45 L115.91 263.55 L116.14 261.58 L116.08 260.38 L115.9 259.79 L116.26 258.23 L116.52 256.19 L116.79 254.99 L117.16 253.69 L116.84 252.23 L116.95 251.38 L117.19 249.23 L117.62 248.08 L117.82 246.46 L118.2 245.81 L117.89 243.86 L118.35 242.62 L118.41 240.98 L118.49 240.02 L118.89 238.27 L118.95 236.68 L118.85 235.77 L118.82 233.97 L119.46 232.39 L119.09 231.62 L119.56 230.56 L119.23 228.76 L119.84 226.99 L119.5 226.71 L119.54 224.16 L120.08 223.46 L120.19 222.72 L120.67 220.78 L121.15 219.62 L122.23 221.15 L123.46 219.62 L123.65 221.65 L123.4 221.95 L123.84 224.07 L123.78 225.15 L124.29 225.97 L124.38 228.08 L125.62 229.62 L126.85 228.85 L126.87 229.55 L127.48 230.88 L127.04 233.26 L127.25 234.61 L127.49 236.68 L127.77 237.31 L127.98 238.39 L127.82 239.91 L128.45 241.61 L128.55 242.61 L128.89 243.74 L128.73 245.95 L128.85 246.54 L129.21 247.84 L129.35 249.66 L129.08 250.42 L129.59 251.72 L129.4 253.33 L129.31 254.23 L130.18 255.56 L129.92 257.31 L130.32 257.86 L130.08 260.02 L130.23 262.06 L130.9 262.37 L130.4 264.71 L131.08 265.41 L130.65 265.95 L131.15 268.08 L131.61 269.76 L131.74 270.58 L131.9 272.02 L132.32 273.79 L132.69 275 L133.41 276.36 L134.23 278.08 L135.69 278.7 L137.31 279.15 L138.42 277.19 L139.15 275.77 L140.08 274.23 L140.42 275.78 L140.25 276.56 L140.65 278.04 L140.69 279.62" fill="none" stroke="#0a0a0a" stroke-width="1.8" stroke-linejoin="round" stroke-linecap="round"/>
<path d="M143.46 278.85 L144.64 277.85 L146.14 277.22 L147.31 276.54 L148.08 275.29 L149.37 274.46 L150.38 273.46 L150.96 272.5 L152.03 270.52 L152.59 269.15 L153.46 268.08 L153.64 266.88 L154.22 265.62 L154.97 263.92 L155.1 262.65 L155.65 260.99 L156.04 259.96 L156.54 258.85 L156.67 257.85 L157.33 256.1 L157.33 254.99 L157.84 253.8 L158.33 251.72 L158.73 250.74 L158.85 249.6 L159.18 247.51 L159.62 246.54 L159.65 245.32 L160.07 243.47 L160.23 242.8 L160.65 241.55 L161.27 240.16 L161.19 238.95 L161.7 237.5 L161.92 235.77 L162.4 234.22 L162.35 233.51 L162.56 231.29 L162.67 230.45 L163.07 229.53 L163.15 227.58 L163.79 226.46 L163.92 225 L164.49 223.82 L164.9 222.82 L165.28 221.07 L165.46 219.62 L166.02 220.8 L166.69 221.92 L166.69 223 L167.01 224.55 L167.09 225.51 L167.57 227.12 L167.45 228.49 L167.65 230.31 L168.01 231.46 L167.92 232.69 L168.28 233.94 L168.13 235.31 L168.51 236.48 L168.22 238.58 L168.34 239.21 L168.52 241.04 L168.68 242.19 L168.73 243.65 L168.75 245.29 L168.89 246.34 L169.15 248.08 L169.5 249.9 L169.31 250.91 L169.27 251.74 L169.61 254.16 L169.48 255.02 L169.99 255.93 L169.98 257.61 L170.19 259.62 L170.37 260.97 L170.05 262.24 L170.38 263.46 L170.64 264.67 L170.66 266.29 L171 267.64 L171.51 268.88 L171.68 270.21 L171.81 271.97 L171.92 273.46 L172.63 274.72 L173.29 275.76 L174.23 277.31 L175.49 277.63 L176.88 278.43 L178.08 278.85" fill="none" stroke="#bbbbbb" stroke-width="1.2" stroke-linejoin="round" stroke-linecap="round"/>
<path d="M168.08 280.08 L169.14 279.27 L169.98 277.8 L171.15 277.31 L171.16 276.62 L171.81 275.6 L172 273.25 L172.62 272.8 L172.76 270.87 L173.15 269.62 L173.18 267.76 L173.83 267.57 L173.56 264.81 L174.1 264.01 L174.15 262.54 L173.7 261.75 L173.88 260.71 L174.09 258.25 L174.09 256.65 L174.69 255.77 L174.94 253.64 L174.57 252.18 L174.59 251.6 L174.89 250.63 L175.41 248.79 L175.75 248.22 L175.3 246.47 L175.76 244.02 L175.96 242.35 L175.97 242.51 L175.92 240.38 L176.18 239.36 L176.31 237.45 L175.94 236.01 L176.25 235.41 L176.88 234.31 L176.51 232.79 L177.15 229.83 L176.95 228.58 L176.65 227.82 L177.15 226.54 L177.65 224.42 L177.61 223.43 L178.12 221.25 L178.38 220.38 L179.62 219.62 L179.57 220.12 L179.95 223.26 L180.07 224.23 L180.73 225.8 L180.85 226.54 L181.22 227.15 L180.89 229.94 L181.27 231.37 L180.82 232.74 L181.24 234.05 L181.51 234.67 L181.55 235.47 L182.02 238.4 L181.86 239.39 L182.04 240.42 L181.92 241.92 L181.77 243.49 L182.52 245.19 L182.44 245.22 L182.08 246.74 L182.4 249.15 L182.53 249.89 L182.44 250.45 L182.37 253.21 L183.04 253.91 L182.92 254.45 L182.41 255.39 L182.48 257.01 L183 258.85 L183.57 260.35 L183.02 260.85 L182.98 262.07 L183.22 264.02 L183.37 265.2 L183.93 266.38 L183.63 268.91 L183.9 270.02 L184.23 271.15 L184.42 272.85 L184.56 273.43 L185.71 274.82 L185.77 276.54 L186.99 277.39 L188.08 278.85" fill="none" stroke="#6a6a6a" stroke-width="1.65" stroke-linejoin="round" stroke-linecap="round"/>
<path d="M142.69 280.69 L144.02 280.66 L145.4 280.59 L146.77 280.63 L148.11 280.66 L149.51 280.59 L150.82 280.62 L152.21 280.57 L153.56 280.52 L154.93 280.54 L156.3 280.48 L157.59 280.56 L158.99 280.53 L160.36 280.51 L161.68 280.51 L163.07 280.4 L164.38 280.32 L165.77 280.38 L167.01 280.08 L168.3 279.91 L169.62 279.62 L170.96 278.13 L171.92 276.54 L172.36 274.34 L172.7 273.77 L173.07 272.07 L173.27 270.92 L173.69 269.38 L173.77 268.08 L174.18 267.28 L174.1 265.31 L174.4 263.95 L174.76 263.23 L174.54 261.45 L174.38 260.42 L174.94 257.63 L174.61 257.55 L175.38 255.8 L175.31 254.23 L175.34 252.42 L175.52 252.09 L175.75 249.31 L175.52 247.97 L176.16 247.79 L176.32 245.73 L175.94 243.74 L176.01 242.79 L176.23 241.39 L176.61 240.82 L176.54 238.85 L176.56 237.97 L176.62 235.7 L177.15 234.04 L176.69 234.1 L177.13 231.78 L177.49 231.16 L177.3 229.64 L177.23 228.39 L177.58 226.2 L177.77 225 L177.69 222.96 L178.3 221.69 L178.82 221.76 L179 219.62 L180.23 219.62 L180.29 221.37 L180.76 222.5 L181.14 223.63 L181.15 225 L181.52 225.84 L181.51 227.82 L181.24 228.72 L181.94 230.76 L181.69 231.92 L182.08 233.52 L181.69 235.39 L182.29 236.53 L182.29 237.74 L182.23 238.85 L182.17 240.91 L182.57 240.91 L182.73 242.63 L182.21 244.67 L182.43 245.23 L182.4 246.69 L182.84 248.47 L183.26 249.88 L183.11 250.4 L183.41 251.43 L182.99 253.27 L183.12 254.58 L183.31 255.77 L183.1 256.73 L183.13 258.39 L183.41 260.38 L183.52 260.75 L183.99 262.12 L184.19 264.02 L183.74 265.66 L184.53 266.4 L184.23 268.08 L184.58 269.69 L185.21 271.93 L184.8 272.5 L185.46 274.23 L186.63 275.02 L187.31 276.08 L188.85 276.39 L190.38 276.54 L192.69 277.31 L193.67 278.13 L195 279.62 L196.59 280.13 L198.08 280.69 L199.39 280.7 L200.73 280.74 L202.01 280.71 L203.32 280.7 L204.69 280.69 L205.98 280.74 L207.31 280.69" fill="none" stroke="#0a0a0a" stroke-width="1.8" stroke-linejoin="round" stroke-linecap="round"/>
<path d="M185.46 235.5 H207.62 M185.46 233.46 V238.08" fill="none" stroke="#1c1c1c" stroke-width="1.15"/>
<path d="M75.77 346.62 L76.12 345.42 L76.4 343.71 L76.78 342.45 L76.73 340.67 L77.31 339.69 L77.68 338.47 L77.3 337.2 L77.82 335.04 L78.07 333.8 L77.93 333 L78.04 331.22 L78.16 330.14 L78.54 329.03 L78.68 327.57 L78.54 325.85 L78.6 324.37 L78.92 323.67 L78.66 322.2 L78.76 320.08 L78.91 319.69 L79.02 318.28 L79.26 316.94 L79.04 315.75 L79 313.98 L79.08 312.53 L79.6 311.68 L79.73 310.09 L79.55 308.33 L79.62 307.38 L79.71 306.45 L79.74 305.01 L79.83 303.56 L79.88 302.36 L79.94 300 L80.3 299.38 L80.49 297.59 L80.59 295.98 L80.49 294.69 L80.69 293.54 L80.79 291.65 L81.03 290.82 L81.49 289.2 L81.74 287.81 L81.92 286.62 L82.34 287.46 L82.57 289.82 L82.71 290.92 L83.17 291.76 L83.15 293.54 L83.01 294.85 L83.44 296.18 L83.39 297.37 L83.46 299.16 L83.33 300.22 L83.43 301.73 L83.6 302.98 L83.72 304.1 L83.9 305.76 L83.97 306.57 L84.07 307.58 L84.39 308.99 L84.23 310.46 L84.12 311.46 L84.51 313.54 L84.51 314.92 L84.39 316.16 L84.76 316.74 L84.47 318.29 L84.72 319.68 L84.97 320.71 L84.79 322.15 L84.81 323.58 L85.13 324.72 L84.95 326.54 L85 328 L85.31 328.92 L85.51 329.99 L85.31 332.04 L85.46 333.31 L85.87 334.6 L85.83 336.01 L85.99 337.23 L86.52 338.6 L86.21 339.58 L86.54 341.23 L87.01 343.07 L87.66 344.24 L88.08 345.85 L89.24 346.43 L90.38 347.08" fill="none" stroke="#bbbbbb" stroke-width="1.2" stroke-linejoin="round" stroke-linecap="round"/>
<path d="M75.77 347.08 L76.92 345.99 L78.08 345.08 L79.11 343.65 L79.47 342.7 L80.38 341.23 L80.44 339.25 L80.95 339.25 L81.19 336.99 L81.43 336.29 L81.72 334.88 L82.23 333.54 L82.5 331.43 L82.58 331.55 L82.74 330.14 L82.87 328.39 L83.44 327.4 L83.77 325.85 L85 324.31 L84.81 325.17 L85.43 328.14 L85.77 328.92 L86.04 328.03 L86.34 326.72 L86.2 324.97 L86.85 322.77 L86.87 320.72 L87.36 319.54 L88.03 318.94 L88.03 316.16 L88.08 315.08 L89.31 316.62 L89.22 315.19 L89.45 313.47 L89.5 312.23 L89.74 310.64 L89.91 310.84 L90.53 308.91 L90.38 307.38 L91.15 306.64 L90.74 303.49 L91.46 302.77 L91.47 301.48 L92.22 299.23 L92.1 299.26 L91.86 297.87 L92.56 295.31 L92.53 294.64 L92.78 292.71 L92.69 292 L93.07 289.77 L92.73 289.18 L93.25 287.84 L93.62 286.62 L93.59 288.85 L94 289.3 L94.18 291.34 L94.54 292 L94.55 294.31 L94.88 295.75 L95.4 296.79 L95.77 298.15 L97.31 296.62 L97.58 298.47 L98.08 299.69 L98.85 300.46 L100.38 299.69 L101.14 301.95 L101.62 302.77 L102.21 304.63 L101.63 305.98 L101.72 307.28 L102.61 307.39 L101.97 309.92 L102.4 311 L102.69 312 L103.49 314.33 L103.73 315.69 L104.23 316.62 L105.14 315.56 L105.31 313.54 L105.37 315.61 L105.59 316.9 L105.73 317.47 L105.59 318.1 L106.57 320.05 L106.57 321.4 L106.54 322.77 L107.51 324.35 L108.08 325.85 L109.62 324.31 L109.6 325.51 L110.35 326.77 L110.94 328.13 L110.85 330.46 L111.37 332.67 L111.98 332.9 L111.88 335.45 L112.69 336.62 L113.19 337.24 L113.51 339.61 L114 340.27 L115 342 L116.43 343.23 L117.31 345.08 L118.94 345.58 L120.38 346.62" fill="none" stroke="#6a6a6a" stroke-width="1.65" stroke-linejoin="round" stroke-linecap="round"/>
<path d="M75.46 347.38 L76.81 347.3 L78.2 347.3 L79.57 347.29 L80.93 347.16 L82.27 347.1 L83.66 347.1 L85 347.08 L86.53 346.77 L88.17 346.3 L89.62 345.85 L90.6 345.11 L91.85 343.5 L92.69 342.77 L93.42 341.95 L94.62 340.35 L95 338.15 L95.32 336.33 L95.98 335.12 L96.08 334.13 L96.61 332.81 L96.57 332.3 L97 330.46 L97.4 329.94 L97.14 327.23 L97.8 326.5 L98.19 325.13 L97.74 323.83 L98.12 323.03 L98.54 321.23 L98.98 320.47 L98.61 318.64 L98.87 317.96 L99.03 316.09 L99.67 314.02 L99.76 312.55 L99.53 311.46 L100.08 310.46 L99.96 309.05 L100.66 308.5 L100.55 306.47 L101.11 304.89 L101.02 303.66 L101.66 302.33 L101.62 301.23 L102.09 299.38 L101.97 298.33 L102.17 296.84 L102.56 296.61 L103.03 295.61 L103.15 293.54 L103.31 291.69 L103.56 290.45 L103.78 289.41 L104.38 287.38 L105.31 286.62 L105.48 287.23 L105.77 289.19 L105.75 290.34 L106.23 292 L106.78 291.26 L107.13 288.53 L107.46 287.38 L107.27 288.64 L107.62 290.34 L107.98 291.65 L107.93 294.23 L108.38 295.08 L108.88 296.75 L108.99 297.82 L108.97 298.94 L109.04 300.91 L109.21 302.15 L109.27 302.74 L109.31 304.31 L109.7 306.26 L109.4 306.41 L109.38 307.86 L109.67 309.1 L109.81 310.61 L109.97 312.96 L110.38 313.54 L110.19 314.08 L111.03 315.99 L111.04 317.21 L110.61 318.07 L111.49 319.41 L111.26 321.07 L111.46 322.77 L111.75 323.89 L112.06 324.95 L112.02 327.49 L112.19 328.77 L111.98 329.97 L112.43 331.48 L112.69 332 L113.24 333.15 L113.68 334.54 L113.87 337 L114.23 338.15 L114.58 338.98 L115.73 340.73 L116.08 342.77 L117.2 344.13 L118.08 345.54 L119.29 346.21 L120.62 346.49 L121.92 347.08 L123.27 347.18 L124.55 347.19 L125.85 347.19 L127.2 347.13 L128.51 347.16 L129.85 347.2 L131.15 347.25 L132.46 347.2 L133.79 347.32 L135.1 347.27 L136.45 347.29 L137.77 347.32 L139.05 347.38 L140.38 347.38" fill="none" stroke="#0a0a0a" stroke-width="1.8" stroke-linejoin="round" stroke-linecap="round"/>
<path d="M143.46 347.08 L143.94 345.6 L144.15 343.88 L144.37 342.9 L145 341.23 L145.27 339.63 L145.27 338.72 L145.53 337.23 L145.79 335.35 L145.96 334.38 L145.74 333.04 L145.87 331.34 L146.3 330.38 L146.31 328.98 L146.6 327.12 L146.54 325.85 L146.41 325 L146.5 323.12 L146.63 321.89 L147.1 320 L147.05 319.07 L147.25 318.28 L147.35 316.03 L147.28 315.14 L147.28 314.24 L147.49 312.36 L147.51 311.22 L147.94 309.42 L147.87 308.29 L147.73 307.07 L148.08 305.85 L148.28 304.59 L148.6 303.3 L148.68 301.94 L148.67 300.75 L148.89 299.2 L148.72 297.3 L149.14 295.63 L149 295.14 L149.07 293.38 L149.31 292 L149.58 290.62 L150.21 288.44 L150.38 287.38 L150.55 289.31 L150.77 290.99 L150.9 292 L151.07 293.94 L151.46 295.08 L151.52 296.74 L151.71 297.42 L151.87 298.51 L151.98 300.6 L151.68 301.67 L151.8 302.85 L152.2 304.14 L152.07 304.99 L151.86 306.77 L152.13 308.57 L152.28 309.82 L152.35 311.17 L152.38 312 L152.36 312.8 L152.68 314.81 L152.45 315.64 L152.68 317.71 L152.86 318.52 L152.89 319.74 L152.86 320.88 L153.11 322.03 L153.09 323.42 L152.96 325.47 L153.43 326.52 L153.56 328.05 L153.41 329.26 L153.46 330.46 L153.35 331.36 L153.91 333.02 L154.18 334.23 L153.96 335.53 L154.47 337.24 L154.25 338.06 L154.58 339.35 L154.69 341.23 L155.38 342.43 L155.81 344.56 L156.23 345.85 L158.08 347.08" fill="none" stroke="#bbbbbb" stroke-width="1.2" stroke-linejoin="round" stroke-linecap="round"/>
<path d="M143.46 347.38 L143.9 345.9 L144.6 344.26 L145 342.77 L145.07 342.08 L145.09 340.12 L145.02 338.74 L146.04 337.04 L145.98 335.53 L145.81 334.27 L146.42 332.76 L145.82 331.78 L146.46 330.5 L146.54 328.92 L146.6 327.22 L146.92 325.8 L146.6 324.34 L146.51 323.06 L147.16 322.07 L147.05 320.44 L146.97 319.93 L147.67 317.61 L147.54 317.75 L147.5 316.3 L147.27 314.77 L147.29 312.41 L147.38 310.7 L148.06 309.99 L147.92 308.92 L147.91 307.94 L147.92 306.77 L147.98 305.58 L148.71 303.33 L148.87 302.55 L149 300.16 L148.63 298.78 L148.77 297.83 L149.25 296.03 L149.09 294.53 L149.15 293.54 L149.41 291.19 L149.81 290.67 L150.16 289.59 L150.38 287.38 L150.71 288.52 L151.4 290.29 L151.03 292.02 L151.62 293.54 L151.9 294.5 L151.59 295.56 L151.99 297.47 L152.31 298.46 L152.25 299.83 L151.99 301.15 L152.5 303.65 L152.42 305.2 L152.86 306.66 L152.69 307.38 L152.92 308.69 L152.81 310.71 L152.8 311.12 L153.53 313.76 L153.32 314.98 L152.88 316.27 L153.46 316.81 L153.28 318.89 L153.95 320.41 L153.26 321.52 L153.77 322.77 L153.78 323.62 L153.68 325.6 L154.02 326.51 L154.38 328.87 L154.34 329.64 L154.82 331.3 L155.16 331.7 L155 333.54 L155.58 334.06 L155.48 336.53 L156.13 337.11 L156.19 339.02 L155.87 340.4 L156.54 341.23 L157.59 341.9 L157.96 343.71 L158.85 345.08 L160.54 346.16 L161.92 346.62 L163.14 346.83 L164.43 346.99 L165.77 347.38" fill="none" stroke="#6a6a6a" stroke-width="1.65" stroke-linejoin="round" stroke-linecap="round"/>
<path d="M142.69 347.69 L144.23 345.85 L144.31 344.95 L144.94 342.81 L144.99 342.11 L145.07 341.13 L145 338.89 L145.24 338.59 L145.77 336.62 L146.12 335.14 L145.66 334.38 L146.33 333.01 L146.57 331.28 L146.32 330.1 L146.15 328.77 L146.4 326.73 L146.96 324.64 L146.65 324.53 L146.81 323.27 L147 321.23 L147.27 319.49 L147.18 318.39 L147.41 317.67 L147.38 315.34 L147.76 314.21 L147.67 313.94 L147.63 311.4 L147.8 310.17 L147.59 309.05 L147.68 308.34 L148.24 306.82 L148.5 304.93 L148.23 304.31 L148.23 302.66 L148.53 301.84 L148.46 300.09 L148.68 298.58 L148.56 297.87 L148.67 295.98 L148.97 294.6 L149.49 293.84 L149.46 292 L150.06 290.85 L149.9 288.52 L150.1 288.58 L150.69 286.62 L150.83 287.77 L151.04 289.05 L151.14 290.3 L151.62 292 L151.73 293.28 L151.53 294.07 L151.64 295.99 L152.27 297.99 L152.21 298.9 L152.65 300.13 L152.59 300.86 L152.69 302.77 L152.99 304.45 L152.84 305.66 L152.92 306.1 L153.17 308.12 L153.37 308.96 L153.99 311 L153.77 312 L153.9 312.85 L154.56 315.75 L154.87 316.91 L155 318.15 L156.14 320 L156.54 321.23 L156.85 322.72 L157.77 324.31 L158.22 322.89 L158.85 321.23 L158.93 322.72 L159.73 323.43 L159.92 325.08 L160.64 325.98 L161.15 327.38 L162.69 325.85 L163.29 327.33 L163.62 328.92 L164.21 327.33 L163.71 325.16 L164.46 323.66 L164.54 322.77 L165.77 322 L166.29 323.34 L166.26 324.55 L166.97 326.1 L167 327.38 L168.08 329.69 L169.15 328.15 L169.7 329.65 L170.38 331.23 L171.92 332 L172.4 333.47 L172.91 334.93 L173.15 336.62 L173.75 337.55 L174.69 339.69 L175.58 340.72 L176.54 342.77 L177.53 343.81 L178.85 345.54 L179.96 346.51 L181.15 347.08 L182.69 347.23 L184.23 347.48 L185.77 347.69 L187.09 347.73 L188.46 347.75 L189.82 347.66 L191.18 347.64 L192.48 347.65 L193.82 347.65 L195.22 347.65 L196.54 347.65 L197.87 347.64 L199.22 347.67 L200.59 347.75 L201.9 347.69 L203.28 347.75 L204.59 347.71 L205.96 347.69 L207.31 347.69" fill="none" stroke="#0a0a0a" stroke-width="1.8" stroke-linejoin="round" stroke-linecap="round"/>
<path d="M75.77 413.54 L76.02 412.14 L76.14 410.8 L76.43 408.8 L76.42 407.26 L76.97 406.5 L77 404.62 L76.91 403.32 L76.96 401.34 L77.39 400.48 L77.35 398.95 L77.46 397.49 L77.47 396.7 L77.45 394.92 L77.61 393.28 L77.63 391.64 L78.04 390.11 L78.08 389.23 L78.11 388.04 L78.27 386.16 L78.26 385.08 L78.55 384.36 L78.51 382.95 L78.49 381.84 L78.73 380.43 L78.51 378.9 L78.86 377.58 L79.06 375.74 L78.71 374.79 L78.85 373.92 L79.3 372.07 L79.15 370.77 L79.45 369.51 L79.63 368.06 L79.36 367.16 L79.52 364.81 L79.92 364.01 L80.09 362.15 L80.25 361.44 L80.22 359.16 L80.41 358.17 L80.38 356.92 L80.8 355.04 L81.62 353.54 L82.48 355.03 L82.85 356.92 L82.92 358.75 L83.15 359.55 L83.03 361.13 L83.24 362.71 L83.39 363.5 L83.61 365.56 L83.49 366.23 L83.56 368.4 L83.55 369.19 L83.77 370.77 L83.96 372.43 L84.12 373.45 L84.15 374.67 L83.86 376.57 L84.04 378.18 L84.18 378.99 L84.55 380.04 L84.7 381.77 L84.27 383.18 L84.4 384.48 L84.69 386.15 L84.79 387.62 L84.72 389.5 L84.79 389.92 L84.96 391.2 L85.39 392.77 L85.01 394.68 L85.29 395.53 L85.46 396.99 L85.34 398.75 L85.53 399.97 L85.77 401.54 L85.98 403.62 L86.26 404.69 L86.31 406.11 L86.5 408.07 L86.85 409.23 L87.52 410.77 L87.85 411.91 L88.38 413.08 L90.38 414.15" fill="none" stroke="#bbbbbb" stroke-width="1.2" stroke-linejoin="round" stroke-linecap="round"/>
<path d="M75.77 413.85 L77.26 413.07 L78.85 412 L79.87 410.56 L80.09 410.55 L81.22 409.27 L81.92 407.69 L82.62 406.96 L82.34 404.68 L82.96 404.52 L83.67 402.06 L83.52 401.82 L84.23 400 L85.31 397.69 L86.26 398.37 L86.54 400.77 L86.64 398.66 L86.99 397.08 L87.21 395.94 L87.16 395.97 L87.51 394.49 L88.08 392.31 L88.66 390.49 L88.74 389 L89.03 387.83 L89.62 386.15 L89.54 385.03 L90.12 383.03 L90.8 381.93 L90.76 381.42 L91.11 379.89 L91.15 378.46 L91.5 376.79 L92.14 374.6 L92.36 374.46 L92.69 372.31 L92.91 371 L93.38 370.25 L93.3 368.64 L94 367.39 L93.71 366.79 L94.23 364.62 L94.35 363.6 L94.34 362.38 L95.05 361.5 L95.01 358.63 L95.36 358.08 L95.77 356.92 L96.24 355.3 L96.63 354.99 L96.69 353.08 L96.5 355.3 L96.76 355.34 L97.01 357.66 L97.62 358.46 L98.48 356.51 L98.54 355.38 L98.96 357.76 L99.5 358.03 L99.62 360 L99.73 362.07 L100.26 362.61 L100.15 363.18 L100.14 365.83 L99.97 366.05 L100.6 367.05 L100.69 369.23 L100.81 371.23 L101.23 372.3 L101.92 373.85 L102.56 375.43 L102.58 376.14 L102.69 378.52 L102.89 379.96 L103.15 381.54 L103.28 383.28 L104.04 384.98 L104.69 386.15 L104.98 388.43 L105.68 389.83 L106.23 390.77 L107.77 392.31 L108.03 393.45 L108.2 394.99 L108.53 396.68 L108.54 399.36 L109 400 L110.11 401.56 L110.38 403.08 L111.92 404.62 L112.75 406.73 L113.46 407.69 L114.34 408.83 L115 410.65 L115.77 411.54 L117.17 412.48 L118.85 413.54" fill="none" stroke="#6a6a6a" stroke-width="1.65" stroke-linejoin="round" stroke-linecap="round"/>
<path d="M75.46 414.31 L77.1 413.71 L78.85 413.08 L80.22 412.04 L81.92 411.08 L82.73 410.02 L84.31 408.96 L85 408.46 L85.92 407.66 L86.82 405.46 L88.08 404.62 L88.78 403.26 L89.38 401.15 L90.38 400 L91.19 398.09 L92.69 396.92 L93.07 395.53 L93.45 393.89 L94.3 391.96 L94.54 390.77 L95.05 389.9 L95.55 388.59 L95.65 387.14 L95.78 386.27 L95.96 384.14 L96.54 383.08 L96.5 381.81 L97.37 380.74 L96.92 379.84 L97.21 377.46 L97.8 375.9 L98.08 375.38 L98.57 374.4 L98.96 373.05 L98.79 371.11 L98.96 370.46 L99.63 368.47 L99.62 367.69 L100.85 366.15 L100.97 365.09 L100.85 363.87 L100.99 361.99 L101.04 361.64 L101.02 359.31 L101.58 358.32 L101.38 357.01 L101.69 355.77 L101.77 353.85 L101.92 353.08 L102.27 354.19 L102.54 355.58 L102.77 356.83 L102.78 359.37 L102.85 360 L103.15 358.95 L103.77 356.92 L103.99 357.67 L104.21 359.8 L103.98 362.02 L104.67 363.78 L104.69 364.62 L104.53 362.95 L105.02 361.48 L104.8 360.08 L105.18 358.83 L105.32 357.28 L105.5 356.26 L105.43 354.49 L105.77 353.08 L106.26 354.91 L106.43 356.53 L106.41 357.77 L106.86 358.38 L106.85 360 L107.23 361.29 L107.25 362.09 L107.56 363.69 L107.49 365.32 L107.93 367.36 L108.2 368.18 L108.08 369.23 L108.09 370.62 L108.53 371.63 L108.93 372.88 L108.8 375.26 L108.73 375.7 L109.47 377.84 L109.31 378.46 L109.51 380.32 L109.86 380.88 L110.38 383.68 L110.62 384.16 L110.54 386.15 L110.77 387.98 L111.22 389.36 L110.77 390.4 L111.21 390.85 L111.53 392.07 L111.57 393.96 L111.92 395.38 L112.1 396.38 L112.42 397.96 L112.41 398.8 L112.81 399.75 L113.22 402.44 L113.46 403.08 L113.64 405.04 L114.13 405.69 L114.84 407.02 L115 408.46 L115.77 410.2 L116.32 410.76 L117.31 412 L118.8 412.77 L120.38 413.54 L121.93 413.67 L123.44 413.8 L125.05 413.83 L126.54 413.85 L127.9 413.87 L129.18 413.8 L130.57 413.69 L131.95 413.66 L133.32 413.55 L134.58 413.61 L135.91 413.47 L137.31 413.54 L138.52 412 L139.62 410.77 L139.46 409.7 L140.09 408.26 L140 406.38 L140.33 405.84 L140.34 404.1 L139.98 402.65 L140.2 401.54 L140.38 400 L140.14 400.91 L140.52 402.19 L140.25 404.22 L140.53 406.05 L141 407.01 L140.78 408.19 L140.78 409.53 L140.93 411.09 L140.73 412.41 L140.85 413.85" fill="none" stroke="#0a0a0a" stroke-width="1.8" stroke-linejoin="round" stroke-linecap="round"/>
<path d="M143.46 413.54 L143.85 411.84 L144.26 410.77 L144.39 408.89 L144.56 407.46 L145 406.15 L145.26 404.9 L145.28 403.23 L145.38 401.57 L145.49 400.77 L145.43 399.65 L145.57 397.7 L145.87 396.4 L145.99 395.08 L146.01 394 L146.63 392.58 L146.54 390.77 L146.75 389.05 L146.8 388.22 L147 386.77 L147.09 385.28 L146.77 383.8 L147.4 382.67 L147.03 381.17 L147.58 380.56 L147.39 378.41 L147.69 377.04 L147.76 376.18 L147.65 374.41 L147.91 374.04 L147.92 372.31 L148.02 371.34 L148 369.35 L148.25 367.81 L148.68 366.79 L148.26 365.53 L148.47 363.84 L148.96 362.44 L148.78 361.63 L148.9 360.34 L149.15 358.46 L149.2 356.45 L150.04 355.51 L150.08 353.85 L150.38 355.71 L150.5 357.33 L150.76 358.86 L151.15 360 L151.24 361.74 L151.57 362.93 L151.21 363.86 L151.71 365.14 L151.41 366.47 L151.45 367.35 L151.78 368.57 L151.76 370.21 L152.06 371.56 L151.95 373.17 L151.88 374.3 L151.98 375.51 L152.23 376.92 L152.47 378.71 L152.62 379.86 L152.19 380.75 L152.44 381.99 L152.57 383.63 L152.38 384.83 L152.48 386.31 L153.04 387.52 L153.02 389.17 L153.17 389.71 L153.07 391.22 L153.09 392.46 L153.15 393.85 L153.01 395.03 L153.13 397.01 L153.67 397.46 L153.71 399.73 L153.82 400.86 L153.86 401.93 L153.9 402.97 L154 404.47 L154.23 406.15 L154.58 407.48 L154.9 409.58 L155.28 410.46 L155.77 412 L156.98 412.72 L158.08 413.54" fill="none" stroke="#bbbbbb" stroke-width="1.2" stroke-linejoin="round" stroke-linecap="round"/>
<path d="M143 413.85 L143.23 412.35 L143.68 411.11 L144.02 408.96 L144.54 407.69 L144.7 406.54 L144.51 404.14 L145.24 403.09 L145.55 402.71 L145.34 400.01 L145.24 398.52 L145.69 398.11 L145.97 396.36 L146.29 395.91 L146.08 393.85 L146.34 392.55 L146.65 391.25 L145.91 390.64 L146.09 388.4 L146.43 387.98 L146.74 386.12 L147.18 385.43 L146.96 383.31 L146.69 382.82 L147.21 381.57 L147.04 380.35 L146.83 377.84 L147.31 376.92 L147.82 376.02 L147.24 373.86 L147.39 372.96 L147.93 371.51 L147.78 369.14 L147.83 369.3 L148.3 367.31 L148.28 365.55 L147.88 363.8 L148.26 362.06 L148.54 361.54 L148.61 359.88 L148.87 358.72 L149.41 357.58 L149.72 356.32 L149.41 354.78 L149.77 353.54 L150.34 354.55 L150.78 357.66 L151 358.46 L151.33 360.18 L151.55 360.35 L151.42 362.41 L151.21 363.8 L151.21 365.73 L151.38 366.55 L151.5 369.04 L151.75 369.62 L151.68 370.55 L152.23 372.31 L152.26 372.84 L152.8 375.37 L152.15 376.41 L152.34 377.76 L153.04 378.77 L153.2 380.68 L153.13 382.96 L152.83 383.91 L153.61 384.89 L153.11 386.79 L153.46 387.69 L153.56 388.22 L154.1 389.78 L154.09 391.21 L153.97 393.2 L153.94 394.65 L154.72 395.57 L154.52 398.06 L154.24 399.32 L154.69 400 L155.33 401.51 L154.8 402.15 L155.22 403.87 L155.45 405.91 L156.4 405.65 L156.23 407.69 L157.12 408.85 L157.47 410.19 L158.08 411.54 L159.57 412.31 L161.15 413.08" fill="none" stroke="#6a6a6a" stroke-width="1.65" stroke-linejoin="round" stroke-linecap="round"/>
<path d="M142.69 414.15 L143.33 412.36 L143.92 410.77 L143.91 409.27 L144.02 408.34 L144.49 407.19 L144.74 405.69 L144.59 404.04 L144.66 403.33 L145.15 401.54 L145.61 400.41 L145.4 398.47 L145.56 397.82 L145.64 396.14 L145.43 394.17 L145.93 393.83 L145.84 391.86 L146 389.84 L146.09 389.37 L146.38 387.69 L146.39 386.21 L146.63 385.06 L146.81 383.8 L147.14 382.33 L147 381.35 L147.01 379.35 L146.83 378.12 L147.35 377.19 L147.05 374.69 L147.71 374.16 L147.62 372.31 L147.88 370.5 L148.2 369.63 L148.26 368.68 L148.24 366.78 L148.36 364.78 L148.55 364.69 L148.57 362.85 L148.79 361.5 L148.43 360.39 L148.85 358.46 L149.39 356.7 L149.51 355.14 L149.57 354.22 L150.08 353.08 L150.43 354.81 L151.15 356.05 L151.15 356.92 L151.14 357.99 L151.1 359.69 L151.46 361.06 L151.63 362.57 L152.03 363.52 L151.96 365.28 L151.85 366.55 L152.23 367.69 L152.05 368.75 L152.46 370.42 L152.55 372.39 L152.6 373.65 L153.1 374.06 L152.88 376.24 L153.24 377.43 L153.61 378.08 L153.46 380 L153.36 382.13 L153.62 382.87 L153.75 383.44 L154.33 385.79 L154.06 386.08 L154.6 387.72 L154.75 389.02 L154.69 390.77 L155.34 391.47 L155.07 392.89 L155.56 395.07 L155.42 395.97 L156.32 397.01 L156.23 398.46 L156.87 400.15 L156.99 401.78 L157.86 402.44 L158.08 403.85 L158.61 404.51 L159.9 406.52 L160.38 407.69 L161.94 408.72 L163.46 410 L164.48 410.16 L165.82 411.4 L167.31 411.54 L169 411.84 L170.42 412.31 L171.92 412.62 L173.57 413.14 L174.93 413.39 L176.54 413.54 L178.09 413.71 L179.64 413.87 L181.15 414.15 L182.48 414.2 L183.74 414.13 L185.11 414.21 L186.39 414.21 L187.67 414.14 L189.02 414.1 L190.3 414.11 L191.62 414.21 L192.92 414.19 L194.2 414.14 L195.57 414.21 L196.83 414.11 L198.14 414.21 L199.44 414.12 L200.76 414.15 L202.09 414.16 L203.4 414.15 L204.71 414.14 L206.01 414.14 L207.31 414.15" fill="none" stroke="#0a0a0a" stroke-width="1.8" stroke-linejoin="round" stroke-linecap="round"/>
<path d="M80.38 480.31 L81.53 479.45 L82.77 478.71 L83.97 478.09 L85 477.23 L85.85 476.56 L87.24 475.28 L88.08 474.15 L88.72 473.38 L89.5 472.3 L90.59 470.22 L91.15 469.54 L91.58 468.79 L92.35 466.68 L92.65 466.13 L92.94 464.02 L93.83 463 L94.23 461.85 L94.7 460.47 L95 459.46 L95.51 457.58 L95.82 457.24 L96.41 454.98 L96.54 454.15 L96.88 452.51 L97.47 451.26 L97.75 450.09 L98.09 448.42 L98.2 447.67 L98.47 446.01 L98.85 444.92 L99.29 443.16 L99.56 442.71 L99.82 441.12 L99.85 439.62 L100.02 438.07 L100.44 436.52 L100.69 435.69 L100.93 434.34 L101.97 432.84 L102.23 431.08 L102.25 429.11 L102.48 428.1 L103.11 426.42 L102.97 425.41 L103.46 423.38 L104.03 421.75 L104.48 421.29 L104.69 419.54 L104.85 420.95 L104.96 422.07 L105.34 424.06 L105.77 424.92 L106 426.03 L106.12 427.28 L105.85 428.98 L106.38 430.93 L106.2 431.61 L106.38 433.11 L106.63 434.59 L106.49 435.76 L106.77 436.92 L106.85 438.77 L106.78 439.83 L106.9 441.06 L107.2 443.11 L107.18 444.85 L107.3 445.76 L107.6 447.31 L107.87 448.06 L107.51 449.48 L107.64 451.22 L107.99 453.05 L108.08 454.15 L108.41 455.62 L108.37 456.83 L108.33 457.94 L108.54 459.2 L108.83 460.71 L109.15 462.17 L109.18 463.47 L109.02 465.03 L109.31 466.46 L109.58 468.26 L109.64 468.5 L109.85 470.7 L110.1 472.07 L110.41 473.32 L110.85 474.15 L111.38 475.86 L112.06 476.61 L112.69 478 L114.14 478.96 L115.77 480" fill="none" stroke="#bbbbbb" stroke-width="1.2" stroke-linejoin="round" stroke-linecap="round"/>
<path d="M83.46 480.31 L84.99 479.96 L86.54 479.47 L88.08 478.77 L89.59 477.75 L91.15 476.46 L92.4 474.24 L93.46 473.38 L95 474.92 L95.66 473.96 L96.08 471.66 L96.43 470.74 L97.31 469.54 L98.18 468.24 L98 467.05 L98.91 466.48 L98.81 464.55 L99.62 463.38 L99.54 461.72 L100.24 460.18 L100.27 459.96 L100.68 458.57 L100.94 456.19 L101.32 456.03 L101.92 454.15 L101.81 452.36 L102.54 451.49 L103.04 449.93 L102.54 449.4 L103.12 447.79 L103.46 446.46 L103.44 445.96 L104.23 443.44 L104.11 441.94 L104.91 440.67 L104.66 439.53 L105 438.77 L105.24 437.68 L105.29 436.35 L105.92 434.44 L106.46 433.43 L106.34 433.18 L106.54 431.08 L106.98 428.64 L107.77 428 L107.76 425.74 L107.83 425.66 L108.54 422.79 L108.53 421.62 L108.85 420.31 L109.62 419.54 L109.45 420.5 L109.55 423.07 L110.13 423.74 L110.65 425.19 L110.54 426.46 L110.65 428.23 L110.84 428.89 L111.18 429.83 L111.16 431.32 L111.23 432.72 L111.38 434.39 L111.66 435.71 L111.28 437.59 L111.77 438.77 L111.82 440.55 L112.17 440.63 L112.26 442.01 L112.68 444.37 L112.52 445.36 L112.18 446.62 L112.54 447.76 L113.29 449.27 L113 451.08 L113.2 451.95 L113.69 453.06 L114 454.51 L113.55 456.36 L113.79 457.06 L114.42 458.35 L114.15 459.62 L114.54 461.85 L114.39 462.9 L115.11 463.51 L115.26 465.42 L115.99 467.83 L115.91 468.64 L116.08 469.54 L116.16 471.15 L117.44 473.28 L117.77 474.63 L118.08 475.69 L119.13 476.94 L119.46 478.12 L120.38 479.08 L121.87 479.85 L123.46 480.31" fill="none" stroke="#6a6a6a" stroke-width="1.65" stroke-linejoin="round" stroke-linecap="round"/>
<path d="M75.46 480.77 L76.85 480.78 L78.27 480.75 L79.65 480.71 L81.07 480.75 L82.48 480.71 L83.9 480.66 L85.28 480.66 L86.67 480.61 L88.08 480.62 L89.6 480.39 L91.2 480.26 L92.73 480.12 L94.23 480 L95.48 479.29 L96.79 478.81 L98.08 478.46 L99.04 477.79 L100.39 476.09 L101.15 475.69 L102.09 474.78 L102.97 473.12 L103.46 471.08 L104.3 469.53 L104.33 467.52 L105.31 466.46 L106.06 464.75 L106.31 463.7 L106.85 461.85 L107.02 459.93 L107.17 459.45 L107.55 457.62 L107.98 455.45 L108.08 454.15 L108.31 452.62 L108.71 451.23 L108.77 449.44 L109.31 448 L109.86 446.1 L109.97 445.35 L110.38 443.38 L110.72 441.97 L110.49 440.59 L111.23 438.16 L110.99 437.86 L111.46 435.69 L111.68 434.63 L111.6 433.25 L112.27 430.64 L112.6 429.57 L112.69 428 L112.68 427.38 L112.73 424.9 L113.58 424.38 L113.26 423.09 L113.4 420.72 L113.92 419.54 L114.31 420.38 L114.11 422.21 L114.39 423.57 L114.34 425.11 L114.65 426.83 L114.85 428 L114.72 428.8 L115.43 431.29 L115.57 432.84 L115.23 433.58 L115.77 435.69 L116.28 437.04 L116 438.73 L116.08 440.4 L116.63 440.54 L116.85 442.3 L116.65 443.03 L117 444.92 L116.88 446.27 L117.25 448.23 L117.33 449 L117.9 450.63 L117.89 452.13 L118.04 453.36 L118.08 454.15 L118.37 455.01 L118.47 457.18 L118.69 457.99 L118.31 459.56 L119.1 461.36 L119.08 462.05 L119.15 463.38 L119.18 464.43 L119.9 465.71 L119.84 467.66 L120.06 470.33 L120.38 471.08 L120.35 472.8 L121.18 473.06 L121.07 474.77 L121.62 476.46 L122.4 477.91 L123.46 479.54 L125.04 480.21 L126.54 480.62 L127.93 480.62 L129.31 480.62 L130.7 480.64 L132.08 480.67 L133.46 480.7 L134.85 480.7 L136.22 480.71 L137.62 480.7 L139.01 480.77 L140.38 480.77" fill="none" stroke="#0a0a0a" stroke-width="1.8" stroke-linejoin="round" stroke-linecap="round"/>
<path d="M145.77 479.54 L146.98 478.7 L148.39 477.71 L149.62 476.46 L150.35 475.67 L151.02 473.93 L151.92 472.62 L154.23 473.38 L155.28 471.89 L156.27 471.32 L157.31 469.54 L157.81 468.26 L158.66 466.5 L159.62 464.92 L160.11 463.66 L160.57 462.69 L160.51 460.79 L161.28 460.02 L161.54 458.02 L161.92 457.23 L162.04 455.69 L162.51 454.79 L162.65 453.35 L163.16 451.71 L163.56 450.2 L163.8 448.86 L164.09 447.75 L164.23 446.46 L164.42 445.48 L164.74 444.08 L165.09 441.94 L165.28 440.77 L165.47 439.2 L166.01 438.38 L166.35 436.89 L166.54 435.69 L166.57 434.77 L167.25 433.43 L167.36 431.47 L167.92 429.96 L167.99 428.68 L168.14 428.26 L168.54 426.46 L169.13 425.12 L169.08 423.78 L169.92 422.82 L170.08 421.08 L171.15 420.31 L171.13 421.58 L171.58 422.89 L171.73 425 L171.89 426.75 L172.23 428 L172.6 429.13 L172.48 431.01 L172.42 432.18 L172.76 433.91 L172.89 435.34 L173.09 435.91 L173.23 437.69 L173.25 439.06 L173.38 440.37 L173.46 441.85 L173.53 443.64 L173.52 444.5 L173.73 445.5 L173.68 447.4 L174.29 448.91 L173.99 449.73 L174.13 452.13 L174.25 453.41 L174.53 453.99 L174.81 455.77 L174.69 457.23 L174.56 459.04 L175 459.55 L175.01 461.3 L175.03 462.9 L175.5 464.33 L175.26 466.06 L175.62 466.55 L175.87 468.79 L175.98 470.22 L175.92 471.08 L176.29 472.13 L176.84 474.35 L177.21 476.18 L177.31 477.23 L178.5 478.44 L179.62 480" fill="none" stroke="#bbbbbb" stroke-width="1.2" stroke-linejoin="round" stroke-linecap="round"/>
<path d="M158.08 480 L159.72 479.12 L161.12 478.61 L162.69 478 L163.45 476.82 L164.78 475.55 L165.73 474.58 L166.54 474.15 L166.99 473.77 L167.85 470.96 L168.95 470.72 L169.62 469.54 L170.19 469.09 L170.45 467.08 L171.44 465.17 L171.77 464.06 L172.58 462.31 L172.69 461.85 L172.75 460.95 L172.98 459.49 L173.54 458.16 L174.14 456.93 L174.73 454.66 L174.27 453.59 L175 452.62 L174.82 451.04 L175.89 449.42 L175.58 447.74 L176.12 447.08 L176.18 446.67 L176.18 444.77 L176.39 443.97 L176.85 441.85 L177.48 440.26 L177.62 438.57 L177.01 437.62 L177.45 435.92 L177.64 434.61 L177.86 434.14 L177.95 432.56 L178.38 431.08 L179 429.55 L178.64 427.54 L178.97 426.07 L179.62 424.92 L180.43 424.12 L180.85 422.62 L181.11 423.15 L181.53 426.11 L181.72 426.74 L182.08 428 L182.25 429.32 L182.73 429.99 L182.38 432.94 L182.21 434.31 L182.74 434.83 L183.19 437.15 L182.62 437.21 L182.67 438.79 L183.22 440.19 L183.31 441.85 L183.54 442.3 L183.08 444.35 L183.42 445.6 L183.81 447.17 L183.37 447.59 L183.45 450.11 L184.37 451.57 L184.02 452.75 L184.23 452.8 L183.87 455.33 L184.36 456.43 L184.34 457.06 L184.54 458.77 L184.41 460.16 L184.75 461.62 L184.88 463.35 L184.66 465.02 L184.88 465.53 L185.07 466.2 L185.01 467.56 L185.52 469.19 L185.77 471.36 L185.77 472.62 L186.42 473.69 L186.21 476.02 L186.86 477.61 L187 478.77 L188.85 480.31" fill="none" stroke="#6a6a6a" stroke-width="1.65" stroke-linejoin="round" stroke-linecap="round"/>
<path d="M142.69 480.62 L144.26 480.6 L145.73 480.49 L147.32 480.5 L148.84 480.33 L150.38 480.31 L151.87 480.04 L153.4 479.91 L154.94 479.85 L156.54 479.54 L157.97 478.84 L159.53 477.83 L161.15 477.23 L161.92 476.17 L163.3 475.36 L164.03 473.9 L165 473.38 L165.62 472.59 L166.2 470.93 L167.54 469.41 L168.08 468 L168.38 466.29 L169.1 465.68 L169.12 463.88 L170.07 462.15 L170.57 461.77 L170.69 460.31 L170.81 459.68 L171.27 457.89 L171.72 455.77 L171.98 454.47 L172.62 454.42 L172.45 451.92 L173.15 451.08 L173.34 449.84 L173.55 448.66 L174.24 446.44 L173.81 445.66 L174.42 444.76 L174.54 443.61 L175.16 442.28 L175 440.31 L175.12 439.77 L175.5 438.14 L175.91 435.58 L176.28 435.52 L176.22 434.03 L176.21 432.48 L176.54 431.08 L176.74 429.36 L177.09 428.15 L177.71 426.82 L177.48 425.96 L178.08 424.15 L179.01 423.28 L179.62 421.08 L181.15 421.08 L181.59 421.63 L181.47 424.48 L182.21 425 L182.38 426.46 L182.81 427.16 L182.88 428.74 L182.36 431.11 L183.14 431.14 L183.13 434.02 L183.4 434.77 L183.49 436.52 L183.36 438.05 L183.46 438.77 L183.3 439.68 L183.56 442.16 L183.44 442.66 L183.85 445.13 L183.96 446.53 L183.73 446.95 L183.85 448.04 L184.54 449.7 L184.3 451.34 L184.06 453.52 L184.54 454.15 L184.72 456.23 L184.43 457.11 L185.04 458.69 L184.83 460.19 L185.33 461.37 L185.29 461.96 L185.26 464.12 L185.04 465.57 L185.07 467.02 L185.46 468 L185.53 468.54 L185.63 471.07 L185.83 471.98 L186.04 472.57 L186.21 474.51 L186.55 475.56 L186.54 477.23 L187.16 478.97 L188.08 480.31 L189.44 480.34 L190.75 480.58 L192.11 480.63 L193.46 480.77 L194.85 480.78 L196.24 480.73 L197.61 480.78 L199.01 480.78 L200.39 480.78 L201.75 480.78 L203.14 480.77 L204.53 480.73 L205.91 480.77 L207.31 480.77" fill="none" stroke="#0a0a0a" stroke-width="1.8" stroke-linejoin="round" stroke-linecap="round"/>
<path d="M81.92 547 L83.12 545.88 L84.21 545.05 L85.43 543.9 L86.54 542.69 L87.62 541.41 L88.84 540.42 L89.62 539.62 L90.07 538.83 L90.82 537.43 L91.46 535.62 L92.01 534.53 L92.69 533.46 L93.1 532.04 L93.3 530.49 L94.12 529.5 L94.31 528.48 L94.74 527.29 L95.6 525.62 L95.77 524.23 L96.06 523.34 L96.51 521.11 L96.78 520.66 L97.23 519.27 L97.29 518.07 L97.89 516.17 L98.08 515 L98.57 513.63 L98.59 512.56 L99.25 511.45 L99.58 510.39 L99.9 509.08 L100.08 507.31 L100.35 505.81 L100.6 504.59 L100.93 503.43 L101.08 502.24 L101.66 500.73 L101.92 499.62 L102.05 498.87 L102.6 497.39 L102.81 495.3 L102.84 494.73 L103.36 492.84 L103.46 491.92 L104.03 490.66 L104.67 488.42 L105 487.31 L106.23 486.54 L106.59 488.03 L106.89 488.86 L106.97 491.26 L107.23 491.89 L107.22 494.1 L107.46 495 L107.61 496.35 L107.63 497.78 L107.57 499.05 L108.12 500.99 L107.85 502.19 L108.35 503.06 L108.15 504.85 L108.23 506.38 L108.62 507.45 L108.77 509.53 L108.69 510.38 L108.62 511.88 L108.67 513.21 L108.73 514.15 L109.21 515.76 L109.11 516.52 L109.43 518.27 L109.2 519.89 L109.58 520.99 L109.5 522.36 L109.43 523.1 L109.83 524.63 L109.72 525.47 L109.92 527.31 L109.91 528.95 L109.98 530.13 L110.33 531.23 L110.46 533.18 L110.95 534.02 L111.02 535.4 L111.18 537.24 L111.15 538.08 L111.52 539.71 L111.96 541.4 L112.41 543.03 L113 544.23 L114.04 544.97 L114.88 545.91 L115.77 547" fill="none" stroke="#bbbbbb" stroke-width="1.2" stroke-linejoin="round" stroke-linecap="round"/>
<path d="M85 547.31 L86.46 546.87 L88.07 546.84 L89.51 546.59 L91.15 546.08 L92.41 545.23 L93.79 545.14 L95 544.23 L96.12 542.63 L97.31 541.15 L98.4 540.34 L98.52 538.29 L99.62 536.54 L100.28 535.96 L99.8 534.81 L100.53 533.43 L100.54 532.3 L101.13 529.63 L101.15 528.85 L101.38 526.67 L101.73 526.3 L101.54 524.92 L102.28 522.98 L102.07 521.77 L102.6 520.21 L102.93 519.7 L102.69 518.08 L103.26 516.29 L102.8 514.88 L103.27 513.22 L102.8 513.22 L103.57 511.91 L103.53 509.42 L103.31 509.07 L103.37 506.63 L103.77 505.77 L104.18 505.04 L103.81 502.51 L104.6 501.18 L104.47 501.09 L104.08 498.33 L104.64 497.03 L105.17 496.19 L105.25 495.19 L105 493.46 L105.1 491.45 L105.64 490.3 L106.32 488.42 L106.23 487.31 L107.31 486.54 L107.35 487.61 L107.97 489.66 L108.04 490.12 L108.28 492.18 L108.38 493.46 L108.91 494.73 L108.71 497.14 L108.68 498.84 L109.61 500.12 L109.62 501.15 L110.85 499.62 L111.41 500.76 L112.08 502.69 L112.32 504.42 L112.58 506.55 L113.31 507.31 L113.82 508.39 L113.94 510.59 L114.18 512.08 L113.56 513.18 L114.5 514.7 L114.54 514.65 L114.54 516.54 L115.06 518.24 L115.12 519.02 L115.77 521.15 L116.36 523 L116.08 524.07 L116.54 526.65 L117 527.31 L117.45 528.43 L117.41 531.1 L117.98 532.03 L118.23 533.46 L118.61 534.45 L118.49 536.58 L119.02 538.78 L119.62 539.62 L120.11 540.9 L120.98 542.95 L121.15 544.23 L122.27 545.81 L123.15 547" fill="none" stroke="#6a6a6a" stroke-width="1.65" stroke-linejoin="round" stroke-linecap="round"/>
<path d="M75.46 547.77 L76.78 547.78 L78.07 547.75 L79.37 547.76 L80.69 547.71 L82.01 547.66 L83.28 547.73 L84.6 547.69 L85.92 547.66 L87.22 547.67 L88.51 547.61 L89.86 547.65 L91.15 547.62 L92.7 547.01 L94.23 546.54 L94.56 544.98 L95.5 544.49 L95.77 542.69 L97.31 541.15 L98.85 542.69 L100.69 541.15 L100.99 539.88 L101.46 538.6 L101.92 536.54 L103.46 537.31 L103.81 536.35 L103.91 534.69 L104.69 532.69 L105.77 535 L105.95 534.23 L106.07 531.33 L106.66 530.35 L106.85 528.85 L106.84 526.75 L107.26 526.22 L107.64 524.52 L107.58 522.86 L108.08 521.15 L107.91 519.04 L108.15 517.9 L109.04 517.89 L108.99 515.58 L109.08 515 L109.48 513.19 L109.62 511.92 L111.15 510.38 L111.42 509.08 L111.82 507.18 L111.82 505.65 L112.1 505.52 L112.26 503.14 L112.25 502 L112.19 501.27 L112.38 499.62 L112.41 499.06 L112.27 496.8 L112.42 496.36 L112.9 494.61 L112.9 492.79 L112.64 491.62 L113.03 490.36 L113.38 488.73 L113.12 487.24 L113.46 486.54 L113.83 488.77 L113.47 489.03 L113.61 490.69 L114.03 492.96 L113.89 493.4 L114.59 494.59 L114.74 497.37 L114.54 498.08 L114.91 498.9 L114.84 501.16 L114.94 501.64 L115.17 503.74 L115.33 504.17 L114.99 505.68 L115.46 507.31 L115.85 508.84 L116.28 510.02 L116.37 511.2 L116.1 512.76 L116.54 515 L116.97 517.26 L116.96 517.74 L117.04 519.17 L117.62 521.15 L117.74 522.11 L118.17 524.09 L118.01 526.1 L118.54 527.14 L118.85 528.85 L119.39 530.07 L119.59 531.35 L119.94 532.82 L120.13 535.78 L120.08 536.54 L120.26 538.19 L120.81 540.17 L120.83 541.47 L121.31 542.69 L121.73 543.45 L122.3 545.57 L122.69 546.54 L125 547.62 L126.34 547.56 L127.7 547.61 L129.05 547.55 L130.41 547.38 L131.74 547.51 L133.09 547.33 L134.43 547.44 L135.77 547.31 L136.9 546.28 L138.08 545.46 L139.62 546.08 L140.69 547.77" fill="none" stroke="#0a0a0a" stroke-width="1.8" stroke-linejoin="round" stroke-linecap="round"/>
<path d="M145.77 547 L147 546.2 L148.04 545.18 L149.08 544.08 L150.38 543.46 L151.59 542.47 L152.54 541.43 L153.46 539.62 L154.91 539.34 L156.54 538.08 L157.27 536.31 L157.76 535.9 L158.4 534.16 L159.26 533.1 L159.62 531.92 L159.93 530.66 L160.3 529.11 L160.9 527.44 L161 526.3 L161.49 525.28 L161.77 524.44 L162.38 522.69 L162.48 520.89 L163.16 519.84 L163.23 518.74 L163.42 517.01 L164.01 516.48 L164.3 514.88 L164.75 512.79 L165 511.92 L165.35 510.91 L165.81 509.32 L165.88 508.03 L166.35 506.9 L166.65 505.72 L166.67 504.31 L167.09 502.98 L167.31 501.15 L167.67 500.01 L167.97 498.49 L168.21 497.68 L168.18 496 L168.69 494.73 L169.06 493.1 L169.15 491.92 L169.32 490.17 L170.21 489.13 L170.38 487.31 L171.62 488.85 L172 490.29 L172.12 491.4 L172.05 493.16 L172.08 493.86 L172.1 495.63 L172.3 496.8 L172.77 498.6 L172.69 499.62 L172.55 501.08 L172.89 502.14 L172.83 503.42 L173.23 505.66 L173.14 507.01 L173.18 507.53 L173.57 509.29 L173.4 510.7 L173.84 511.84 L173.45 513.64 L173.77 515 L174.02 515.77 L173.96 518.11 L174.04 518.55 L174.05 520.52 L174.19 521.54 L174.21 523.25 L174.46 524.37 L174.4 525.49 L174.35 526.8 L174.71 527.76 L174.63 529.49 L175.01 531.03 L175 531.92 L175.27 533.78 L175.24 534.07 L175.47 535.78 L175.67 537.33 L176.03 539.2 L176.05 539.82 L175.98 541.05 L176.23 542.69 L176.72 543.97 L177.51 545.23 L178.08 546.54" fill="none" stroke="#bbbbbb" stroke-width="1.2" stroke-linejoin="round" stroke-linecap="round"/>
<path d="M158.08 547 L159.61 546.42 L161.11 546.26 L162.64 545.13 L164.23 545 L165.57 544.31 L166.5 543.49 L168.08 542.69 L169.37 541.24 L169.98 540.91 L171.15 539.62 L172.4 538.8 L173.46 536.54 L173.56 535.12 L173.78 534.87 L174.27 533.23 L174.74 530.68 L175.36 529.64 L175.31 528.85 L175.1 528.32 L175.54 525.4 L175.63 525.2 L176.37 523.52 L176.37 521.85 L176.99 520.19 L176.85 519.62 L176.7 518.91 L177.62 517.4 L177.95 516.4 L177.58 513.69 L178.04 512.22 L178.13 510.93 L178.38 510.38 L178.83 508.23 L179.02 508.51 L178.57 506.4 L178.71 504.66 L178.89 503.66 L179.13 502.46 L179.62 501.15 L180.03 499.91 L180.36 499.02 L180.45 496.77 L180.44 496.39 L180.83 495.11 L180.43 493.93 L180.7 492.37 L180.85 490.38 L180.76 489.27 L181.64 488.61 L181.77 486.54 L182.12 487.67 L182.04 489.58 L181.9 490.46 L182.83 491.7 L182.74 492.79 L182.69 495 L182.57 495.6 L182.84 497.13 L182.59 499.83 L183.03 499.87 L182.95 501.1 L183.23 503.02 L183.13 504.64 L183.62 505.77 L183.39 507.49 L183.57 508.68 L184.1 509.32 L184.37 511.5 L183.97 512.42 L184.17 514.86 L184.59 514.52 L184.74 516.78 L184.54 518.08 L184.92 518.82 L184.58 521.64 L185.18 522.38 L184.96 523.09 L184.93 524.93 L185.1 526.27 L185.42 528.4 L185.53 529.57 L185.46 530.38 L185.26 531.81 L185.61 532.4 L185.68 535.09 L186.45 535.67 L185.76 537.2 L185.96 538.33 L186.05 539.98 L186.54 541.15 L186.73 542.37 L187.09 543.94 L187.62 545.77 L189.15 547.31" fill="none" stroke="#6a6a6a" stroke-width="1.65" stroke-linejoin="round" stroke-linecap="round"/>
<path d="M142.69 547.62 L144.25 547.6 L145.75 547.43 L147.31 547.4 L148.81 547.42 L150.38 547.31 L151.94 547.12 L153.52 547.01 L155.02 546.86 L156.59 546.86 L158.08 546.54 L159.53 546.2 L161.21 546.02 L162.69 545.46 L164.01 543.6 L165 542.69 L165.23 541.65 L165.87 540.26 L166.54 538.08 L167.32 536.59 L167.96 534.26 L168.85 533.46 L169.09 532.38 L169.21 530.5 L169.82 529.75 L170.17 527.76 L170.62 526.96 L170.69 525.77 L171.32 523.68 L170.83 523.22 L171.77 520.77 L171.62 519.82 L171.92 518.08 L172.4 516.79 L173.08 515.78 L172.68 512.81 L173.46 511.92 L173.79 510.13 L173.82 508.89 L174.27 508.07 L174.69 505.77 L175.3 504.9 L175.04 503.25 L175.33 500.4 L175.73 500.08 L175.77 498.08 L175.74 496.78 L176.42 494.57 L176.3 494 L176.98 491.41 L176.85 490.38 L177.15 488.83 L177.74 488.38 L177.77 486.54 L177.77 487.96 L178.05 489.06 L178.55 490.07 L178.28 492.41 L178.69 493.46 L179.16 491.85 L179.62 490.38 L179.59 491.68 L179.99 494.09 L180.47 495.39 L180.39 496.81 L180.54 498.08 L180.73 500.12 L181 501.3 L181.1 502.22 L180.95 503.38 L181.44 505.38 L180.97 506.83 L181.04 507.36 L181.46 508.85 L181.2 509.45 L181.63 512.09 L181.54 512.4 L182.11 514.78 L182.33 516.21 L181.89 516.64 L182.03 518.83 L182.6 519.61 L182.38 521.15 L182.89 522.98 L182.48 524.24 L182.63 525.81 L182.97 526.79 L183.02 527.69 L183.17 529.86 L182.95 530.93 L183.31 531.92 L183.59 533.3 L183.47 534.38 L183.54 536.56 L183.54 536.62 L184.11 539.02 L183.74 539.53 L184.23 541.15 L184.91 543.42 L185.13 544.41 L185.46 546.08 L187.31 547.62 L188.64 547.66 L190 547.64 L191.32 547.68 L192.66 547.65 L193.95 547.72 L195.3 547.7 L196.65 547.65 L197.95 547.7 L199.33 547.71 L200.66 547.7 L201.98 547.76 L203.3 547.73 L204.66 547.73 L205.96 547.75 L207.31 547.77" fill="none" stroke="#0a0a0a" stroke-width="1.8" stroke-linejoin="round" stroke-linecap="round"/>
<path d="M83.46 614.31 L84.2 613.22 L84.97 612.09 L85.65 611.05 L86.54 609.69 L87.54 607.92 L88.08 606.62 L88.85 608.64 L89.62 609.69 L89.83 608.05 L90.43 607.15 L90.95 605.46 L91.35 604.25 L91.92 603.54 L92.24 602.06 L92.65 601.08 L92.81 599.95 L93.52 597.93 L93.84 597.63 L94.23 595.85 L94.86 594.75 L94.83 593.12 L95.41 591.47 L95.77 589.69 L96.05 588.65 L96.13 586.64 L96.52 585.18 L96.43 584.68 L96.63 582.93 L97.17 581.98 L97.18 580.52 L97.31 578.92 L97.38 577.7 L97.84 575.81 L97.76 574.84 L97.82 573.92 L98.35 571.58 L98.31 570.72 L98.24 569.7 L98.63 567.68 L98.85 566.62 L98.9 564.89 L99.21 564.46 L99.28 562.09 L99.65 561.56 L99.58 560.09 L99.61 558.87 L100.19 556.84 L100.08 555.85 L100.85 553.54 L100.93 554.79 L100.91 555.98 L101.17 557.33 L101.42 558.97 L101.53 561.22 L101.81 561.86 L101.55 563.78 L101.92 565.08 L102.06 566.58 L102.53 568.26 L103.15 569.69 L103.23 571.11 L103.47 572.33 L103.37 573.71 L103.33 574.94 L103.5 576.6 L103.48 578.48 L104.01 580 L104.13 580.35 L104.15 582.67 L104.35 583.98 L104.23 585.08 L104.57 586.57 L104.36 587.75 L104.64 589.35 L104.78 590.14 L104.69 592.31 L104.97 593.29 L104.99 594.43 L105.2 596.46 L105.07 597.33 L105.31 598.92 L105.51 600.75 L105.54 602.48 L106.31 603.88 L106.36 604.96 L106.54 606.62 L107.5 607.62 L108.08 609.69 L108.86 611.32 L109.92 612.77 L111.92 614.31" fill="none" stroke="#bbbbbb" stroke-width="1.2" stroke-linejoin="round" stroke-linecap="round"/>
<path d="M88.08 614.31 L89.56 613.42 L91.01 612.96 L92.69 612 L93.69 610.79 L93.84 609.83 L95 608.15 L95.98 606.35 L96.24 604.78 L97.31 603.54 L97.72 601.39 L98.95 600.93 L99.15 598.92 L99.65 597.08 L99.81 595.96 L100.52 594.75 L101.15 592.77 L101.05 591.34 L101.62 590.31 L101.64 588.47 L102.3 587.83 L102.3 586.24 L102.25 585.72 L102.69 583.54 L102.51 582.19 L102.67 580.01 L103.51 579.61 L103.34 578.72 L103.23 576.54 L104.27 576.02 L104.04 574.56 L104.23 572.77 L104.83 571.02 L104.29 570.28 L104.9 568.83 L105.24 566.18 L105.31 565.08 L105.05 563.9 L105.62 562.17 L106.01 560.91 L106.29 559.01 L105.76 558.25 L106.07 557.89 L106.54 555.85 L107.31 553.54 L107.61 555.78 L107.48 556.99 L108.28 558.43 L108.26 558.51 L108.56 559.86 L108.38 562 L108.41 562.77 L108.35 565.53 L108.95 566.74 L108.89 567.17 L109.45 569.58 L109.55 570.75 L109.78 571.9 L109.62 572.77 L110.14 574.6 L109.48 574.9 L109.93 576.34 L110.65 578.82 L110.42 579.03 L110.18 580.04 L110.41 581.76 L110.85 583.54 L111.78 584.73 L112.08 586.62 L112.31 588.33 L113 590.06 L112.61 591.17 L112.91 592.27 L113.31 594.31 L113.79 595.97 L113.67 597.64 L113.71 599.09 L114.58 601.23 L114.54 602 L115.19 603.08 L115.77 605.08 L117.31 604.31 L118.04 606.47 L118.18 606.55 L118.85 608.15 L119.19 609.16 L120.25 610.8 L120.69 612 L121.83 612.82 L123.15 614" fill="none" stroke="#6a6a6a" stroke-width="1.65" stroke-linejoin="round" stroke-linecap="round"/>
<path d="M75.46 614.77 L76.86 614.77 L78.28 614.71 L79.7 614.75 L81.14 614.7 L82.55 614.66 L83.94 614.66 L85.37 614.68 L86.8 614.61 L88.18 614.59 L89.62 614.62 L91.12 614.36 L92.75 614.17 L94.28 613.83 L95.77 613.54 L96.98 613.03 L98.39 612.41 L99.62 611.23 L100.83 609.23 L101.92 608.15 L102.06 607.21 L102.41 604.99 L103.03 603.31 L103.46 602 L104.76 601.1 L105.31 598.92 L105.39 598.14 L106.12 595.27 L106.75 594.11 L106.85 592.77 L107.2 590.83 L107.62 589.34 L108.38 587.54 L108.38 586.62 L108.44 585.16 L108.95 583.92 L109.01 582.12 L109.2 581.33 L109.46 580.51 L109.22 578.67 L109.62 577.87 L109.62 575.85 L109.46 574.53 L110.11 572.59 L110.35 571.97 L110.2 569.71 L110.15 569.12 L110.08 568.56 L110.47 566.25 L110.54 565.08 L110.91 564.3 L110.59 561.44 L110.73 560.35 L110.94 560.11 L110.78 557.72 L110.89 556.18 L111.62 555.07 L111.46 553.54 L111.91 554.61 L111.89 555.76 L111.93 557.13 L112.24 559.15 L112.28 560.82 L112.38 562 L112.75 562.88 L113.05 565.68 L113.46 566.62 L114.54 565.08 L114.85 566.76 L115.22 568.39 L114.89 569.96 L115.54 570.79 L115.46 572.77 L115.41 573.63 L116.14 575.07 L116.14 576.03 L115.71 578.41 L115.99 579.31 L116.49 580.32 L116.54 582 L116.84 582.9 L116.66 584.36 L117.32 586.95 L117.38 587.96 L117.62 589.69 L118.4 590.93 L118.71 593.52 L118.85 594.31 L119.48 596.48 L119.6 597.61 L120.08 598.92 L120.82 599.89 L120.94 602.32 L121.31 603.54 L121.89 605.19 L122.37 607.13 L122.74 608.82 L122.69 609.69 L123.48 611.73 L124.23 612.77 L125.41 613.38 L126.54 614.31 L128.09 614.48 L129.6 614.65 L131.15 614.77 L132.48 614.78 L133.79 614.77 L135.11 614.78 L136.44 614.73 L137.76 614.74 L139.06 614.74 L140.38 614.77" fill="none" stroke="#0a0a0a" stroke-width="1.8" stroke-linejoin="round" stroke-linecap="round"/>
<path d="M150.38 614 L151.58 613.15 L152.79 612.54 L153.76 612.01 L155 611.23 L155.98 610.28 L156.48 608.76 L157.39 607.5 L158.08 606.62 L158.33 605.51 L158.63 604.19 L159.38 603.18 L159.56 601.64 L159.96 600.33 L160.38 598.92 L160.61 597.51 L161.12 596.04 L161.49 594.98 L161.38 593.46 L161.64 592.58 L162.02 590.54 L162.38 589.69 L162.59 588.71 L162.85 586.51 L163.12 585.77 L163.55 584.12 L163.57 583.09 L164.07 582.32 L164.23 580.46 L164.5 578.74 L164.73 577.34 L165.03 576.71 L165.11 574.99 L165.6 573.41 L165.73 572.45 L166.08 571.23 L166.45 570.08 L166.25 568.49 L166.77 567.23 L166.86 565.88 L167.44 564.65 L167.6 563.13 L167.62 562 L167.83 560.89 L168.07 559.72 L168.28 558.21 L168.83 556 L168.85 555.08 L169.77 553.54 L169.86 554.63 L170.15 556.81 L170.39 557.72 L170.37 558.9 L170.69 560.46 L170.5 562.26 L170.6 563.47 L170.72 564.7 L171.21 566.12 L171.34 567.1 L171.44 569.39 L171.54 570.06 L171.36 572.18 L171.53 573.25 L171.28 574.18 L171.62 575.85 L171.54 576.87 L171.86 578.14 L171.98 580.3 L171.94 580.59 L172.14 582.87 L172 584.17 L172.43 584.96 L172.18 586.3 L172.44 587.28 L172.68 589.03 L172.6 590.71 L172.46 591.41 L172.69 592.77 L172.74 594.42 L173.18 595.06 L172.79 596.62 L173.16 598.64 L173.48 599.83 L173.28 601.22 L173.39 601.95 L173.38 603.79 L173.73 605.46 L173.77 606.62 L174.21 607.47 L174.24 608.94 L174.67 610.9 L175 612 L175.96 613.01 L176.85 614" fill="none" stroke="#bbbbbb" stroke-width="1.2" stroke-linejoin="round" stroke-linecap="round"/>
<path d="M155 614.31 L156.15 613.81 L157.5 613.21 L158.67 612.87 L159.84 612.4 L161.15 612 L162.14 611.36 L163.35 609.69 L164.41 608.74 L165 607.38 L165.69 606.2 L166.44 604.67 L166.46 603.73 L167.09 601.57 L167.62 600.46 L168.21 599.46 L167.79 597.88 L168.55 596.29 L169.2 594.39 L169 594.46 L169.29 592.45 L169.62 591.23 L170.34 590.01 L170.55 588.65 L170.49 586.91 L171.15 585.08 L170.91 583.12 L171.72 582.93 L172.05 580.42 L171.84 578.9 L171.63 578.49 L171.74 576.01 L172.57 575.17 L172.47 573.86 L172.69 572.77 L172.64 571.46 L173.38 570.66 L172.77 568.54 L173.17 567.84 L173.85 567.06 L173.21 564.37 L173.77 563.54 L174.35 562.51 L174.45 560.11 L173.9 559.21 L174.06 556.88 L174.69 555.85 L175.46 553.54 L175.5 554.32 L175.84 556.63 L176.13 558.12 L176.54 558.92 L176.79 560.23 L177.1 562.15 L177.83 563.04 L177.77 565.08 L177.76 567.07 L178.65 568.95 L178.07 569.69 L178.22 570.91 L178.85 572.77 L178.73 573.67 L178.75 574.96 L179.69 577.13 L179.56 577.7 L179.36 580.13 L180.03 580.81 L179.42 582.19 L179.92 583.54 L180.23 585.34 L180.51 587.09 L180.04 588.34 L180.51 589.06 L180.74 590.44 L180.79 592.2 L180.87 592.49 L181.15 594.31 L181.15 595.28 L181.45 597.82 L181.79 597.94 L181.97 599.76 L182.12 600.63 L182.63 602.56 L182.69 603.54 L183.34 605.52 L183.52 606.14 L184.15 607.45 L184.54 609.69 L185.65 611.66 L186.54 612.77 L187.75 613.36 L188.85 614.31" fill="none" stroke="#6a6a6a" stroke-width="1.65" stroke-linejoin="round" stroke-linecap="round"/>
<path d="M142.69 614.77 L144.05 614.74 L145.37 614.77 L146.73 614.67 L148.07 614.71 L149.45 614.63 L150.79 614.61 L152.09 614.59 L153.46 614.62 L155.02 614.45 L156.57 614.11 L158.1 613.97 L159.59 613.74 L161.15 613.54 L162.43 612.59 L163.36 611.7 L164.67 610.75 L165.77 610.46 L166.57 609.6 L167.27 607.44 L167.97 607.34 L168.85 605.85 L169.44 605.01 L169.68 604.14 L169.83 602.29 L170.54 600.29 L171.15 599.69 L171.47 598.53 L171.52 597.51 L172.15 595.16 L172.25 594.35 L172.69 592.77 L173.14 590.7 L172.94 590.03 L173.66 588.89 L173.51 587.57 L173.7 585.76 L173.77 584.26 L174.23 583.54 L174.81 581.75 L174.66 581.01 L174.53 579.01 L174.67 578.2 L174.91 577.14 L175.73 574.69 L175.88 574.49 L175.77 572.77 L175.71 571.59 L176.1 569.79 L176.3 569.54 L176.57 567.41 L176.58 566.78 L176.94 564.49 L177.31 563.54 L177.48 562.56 L177.74 560.27 L178.38 558.92 L178.71 557.24 L178.97 556.95 L178.8 555.48 L179.31 553.54 L179.51 555.54 L179.41 555.65 L180.19 557.23 L180.36 558.59 L180.23 560.46 L181.15 559.69 L181.75 561.53 L181.51 562.89 L182.08 563.54 L182.58 562.48 L183 560.46 L182.96 562.14 L183.35 563.04 L183.42 565.87 L183.55 567.34 L183.92 568.15 L184.07 569.41 L184.48 571.48 L184.5 572.46 L184.92 573.74 L185 575.85 L185.03 578.08 L185.28 578.97 L186.01 580.03 L185.51 582.21 L186.08 583.54 L186.45 585.51 L186.96 586.73 L186.97 588.52 L186.69 590.41 L187.31 591.23 L187.24 592.11 L187.46 594.39 L188.32 595.29 L187.84 595.84 L188.12 597.41 L188.38 599.86 L188.85 600.46 L189.23 601.42 L190.01 603.29 L189.67 604.35 L190.38 606.62 L190.89 608.36 L191.81 609.77 L192.23 611.23 L193.63 612.53 L194.69 613.54 L196.44 614.07 L198.08 614.62 L199.39 614.6 L200.73 614.62 L202.03 614.67 L203.34 614.71 L204.67 614.69 L205.98 614.71 L207.31 614.77" fill="none" stroke="#0a0a0a" stroke-width="1.8" stroke-linejoin="round" stroke-linecap="round"/>
<path d="M85 681.08 L86.16 680.1 L87.25 679.36 L88.32 678.34 L89.62 677.69 L90.18 676.29 L90.88 675.19 L91.54 673.65 L92.11 672.31 L92.69 671.54 L93.31 669.9 L93.26 669.48 L93.84 667.23 L94.05 666.03 L94.65 664.85 L95 663.85 L95.32 662.99 L95.75 660.99 L95.91 660.1 L96.36 658.83 L96.7 657.72 L96.8 655.86 L97 654.62 L97.42 653.63 L97.39 652.19 L97.91 650.66 L97.85 648.82 L98.26 647.64 L98.23 646.09 L98.8 645.54 L98.85 643.85 L98.88 642.24 L99.15 641.22 L99.19 639.42 L99.74 638.93 L99.55 637.1 L100.08 635.61 L100.37 633.92 L100.38 633.08 L100.7 631.51 L100.92 630.61 L101.32 629.37 L101.16 627.39 L101.64 626.87 L101.72 625.01 L101.92 623.85 L102.42 622.09 L102.85 620.77 L103.3 622.59 L103.15 623.34 L103.37 625.39 L103.77 626.92 L103.94 628.6 L104.02 629.67 L103.95 631.38 L104.29 631.98 L104.49 633.76 L104.19 634.91 L104.52 636.74 L104.74 637.65 L104.58 639.69 L104.69 640.77 L104.68 642.33 L105.15 643.2 L105.11 645.42 L105.12 646.6 L105.05 648.13 L105.17 648.62 L105.62 650.81 L105.74 651.59 L105.59 653.85 L105.63 654.93 L105.77 656.15 L106.02 657.97 L106.27 658.44 L106 660.42 L106.37 661.83 L106.58 663.25 L106.6 664.21 L106.53 665.87 L106.67 667.29 L106.85 668.46 L106.89 670 L107.22 671.81 L107.71 672.55 L107.91 674.94 L108.08 676.15 L108.9 677.4 L109.37 678.58 L109.92 680 L111.92 681.54" fill="none" stroke="#bbbbbb" stroke-width="1.2" stroke-linejoin="round" stroke-linecap="round"/>
<path d="M83.46 681.54 L84.64 681 L86.01 680.74 L87.08 680.15 L88.31 679.48 L89.62 679.23 L90.65 678.32 L91.8 676.62 L92.09 676.52 L93.46 675.38 L94.35 673.57 L95.22 672.97 L95.77 670.77 L96.66 668.57 L96.33 667.37 L96.9 666.75 L98.05 666.03 L98.08 663.85 L98.76 661.75 L98.28 661.27 L99.28 660.54 L99.56 658.99 L99.5 658.06 L99.9 656.12 L100.08 654.62 L100.4 653.12 L100.17 652.78 L100.89 650.14 L100.98 648.43 L101.16 648.71 L101.13 646.39 L101.42 645.59 L101.92 643.85 L101.75 642.56 L102.47 640.83 L102.71 640.5 L102.33 638.75 L103.08 637.7 L103.37 636.45 L103.01 634.97 L103.46 633.08 L103.55 631.43 L103.96 629.99 L104.25 629.33 L104.45 626.94 L104.75 626.93 L104.09 625.07 L104.69 623.85 L105.1 621.78 L105.77 620.77 L105.72 623.17 L106.37 622.95 L106.13 625.82 L106.85 626.92 L107.32 628.17 L107.42 629.11 L107.11 631.77 L107.44 632.92 L107.97 634.24 L107.89 634.69 L108.08 636.15 L107.83 637.13 L108.63 638.67 L108.55 640.03 L108.52 642.39 L109.24 642.09 L109.43 644.47 L109.22 645.44 L109.31 646.92 L109.4 648.1 L109.63 649.45 L110.04 651.43 L110.39 651.85 L109.85 653.87 L110.51 654.26 L110.54 656.15 L110.76 658.1 L110.69 657.91 L111.34 660.2 L111.75 661.55 L111.26 663.55 L112.15 664.93 L111.92 665.38 L112.38 667.49 L112.39 667.95 L113.1 669.44 L113.46 671.54 L114.4 673.01 L114.77 675.38 L115.46 676.15 L116.29 677.04 L117.29 678.08 L118.08 679.23 L119.7 679.94 L121.15 681.08" fill="none" stroke="#6a6a6a" stroke-width="1.65" stroke-linejoin="round" stroke-linecap="round"/>
<path d="M75.46 681.69 L77.08 681.62 L78.7 681.57 L80.3 681.59 L81.92 681.54 L83.46 681.21 L85.05 681.12 L86.46 680.75 L88.08 680.46 L89.38 680.03 L90.72 679.42 L92.21 678.05 L93.46 677.69 L94.81 676.19 L95.62 676.26 L96.54 674.62 L97.7 672.41 L97.98 671.59 L98.85 670 L99.23 669.24 L100.46 666.14 L100.69 665.38 L101.39 663.86 L102.23 662.31 L103.46 663.08 L103.89 661.14 L104.24 660.28 L104.16 659.4 L104.23 657.56 L104.69 656.15 L104.58 655.45 L104.78 652.99 L105.41 652 L105.78 650.36 L105.7 649.45 L105.46 648.21 L105.92 646.92 L106.02 649.23 L106.85 650 L107.52 647.9 L108.08 646.92 L108.21 645.88 L108.61 643.7 L108.58 643.69 L109.04 641.42 L108.65 639.93 L109.34 638.37 L109.31 637.69 L109.21 635.56 L109.49 635.7 L109.77 633.23 L109.46 633.08 L109.91 631.01 L109.91 629.81 L110.6 628.33 L110.38 626.92 L110.67 626.06 L111.15 623.85 L111.92 621.54 L111.73 622.89 L112.55 624.16 L112.25 626.28 L112.66 627.43 L112.69 628.46 L112.89 629.62 L113.25 632.19 L113.34 632.92 L113.99 634.21 L113.92 636.15 L113.93 634.51 L114.79 633.1 L114.57 631.21 L115 630 L115.33 629.39 L115.45 627.63 L116.08 626.15 L116.69 628.1 L116.57 629.64 L116.64 629.51 L117 631.54 L118.08 633.08 L118.04 634.18 L118.61 635.32 L118.06 636.85 L118.43 639.13 L118.39 639.53 L118.45 640.68 L118.37 642.75 L118.85 643.85 L118.82 644.97 L119.27 646.04 L118.98 647.28 L119.72 649.52 L119.48 649.91 L119.71 651.41 L120.07 654.18 L119.84 654.54 L120.08 656.15 L120.12 658.33 L120.42 659.14 L120.69 660.4 L121.31 662.31 L122.23 663.85 L122.89 665.14 L122.54 666.02 L122.81 667.92 L123.46 669.23 L125.31 668.46 L126.08 669.57 L126.54 671.54 L126.97 672.64 L128.47 675.1 L128.85 676.15 L130.01 677.24 L131.15 679.23 L132.25 679.91 L133.46 681.08 L135.77 681.54 L137.3 681.54 L138.85 681.66 L140.38 681.69" fill="none" stroke="#0a0a0a" stroke-width="1.8" stroke-linejoin="round" stroke-linecap="round"/>
<path d="M148.85 681.08 L150.04 680.36 L151.25 679.64 L152.66 678.83 L153.64 678.66 L155 677.69 L155.92 676.87 L156.3 675.39 L157.11 674.31 L158.08 673.08 L158.71 671.8 L159.1 670.42 L159.27 668.93 L159.41 667.4 L159.74 666.43 L160.38 665.38 L160.91 664.19 L161.02 662.27 L161.08 661.61 L161.71 659.48 L162.08 658.77 L161.99 657.84 L162.47 656.19 L162.69 654.62 L163.02 653.07 L163.42 652.27 L163.28 650.59 L163.81 649.63 L164.22 648.49 L164.17 646.26 L164.54 645.38 L164.67 643.66 L165.21 642.48 L165.14 641.28 L165.29 640 L165.43 638.28 L166.11 637.97 L166.08 636.15 L166.15 634.68 L166.54 633.27 L166.81 631.74 L167.19 631.28 L167.08 629.28 L167.64 628.75 L167.62 626.92 L167.83 624.96 L168.37 623.94 L168.85 622.31 L170.08 621.54 L170.52 623.03 L170.79 624.56 L171.19 625.08 L171.31 626.92 L171.4 627.78 L171.46 630.01 L171.32 630.64 L171.57 631.96 L171.7 633.6 L171.7 634.7 L171.85 636.34 L172.03 637.6 L172.4 639.71 L172.23 640.77 L172.22 642.19 L172.17 643.82 L172.62 645.12 L172.3 645.91 L172.43 647.36 L172.56 649.14 L172.64 650.34 L172.92 651.31 L172.58 652.72 L172.63 654.48 L172.68 654.77 L172.89 656.78 L173.27 657.36 L173.15 659.23 L173.21 660.71 L173.26 662.53 L173.4 663.2 L173.79 665.23 L173.88 665.85 L174 667.37 L173.76 668.78 L174.19 670.52 L174.28 671.7 L174.23 673.08 L174.48 674.97 L174.55 675.92 L175.13 677.98 L175.31 679.23 L176.85 681.08" fill="none" stroke="#bbbbbb" stroke-width="1.2" stroke-linejoin="round" stroke-linecap="round"/>
<path d="M150.38 681.54 L151.68 681.23 L152.89 680.89 L154.32 680.4 L155.56 680.43 L156.82 679.75 L158.08 679.54 L159.36 677.98 L160.65 677.68 L161.14 676.44 L162.69 675.38 L163.17 674.22 L163.7 672.01 L165.12 670.69 L165.46 670 L165.7 668.17 L166.31 667.42 L166.64 666.75 L166.62 665.02 L167.55 663.32 L167.62 662.31 L167.75 660.49 L167.97 659.79 L168.74 659.04 L168.37 657.58 L169.06 655.26 L169.22 653.78 L169.68 653.66 L169.62 651.54 L169.98 650.33 L170.08 648.38 L169.93 647.49 L170.11 646.54 L170.68 644.52 L170.96 642.94 L171.22 641.38 L171.15 640.77 L170.96 639.45 L171.16 638.87 L171.5 637.62 L171.34 635.67 L171.5 634.26 L172.24 633.09 L172.47 631.29 L172.38 630 L172.68 628.24 L172.49 626.55 L172.87 624.5 L173.46 623.85 L173.79 622.05 L174.38 621.08 L174.97 622.75 L175.06 623.53 L175.31 625.38 L175.99 626.16 L175.57 628.98 L175.87 630.8 L175.88 632.1 L176.54 633.08 L176.94 635.29 L177.03 635.27 L177.02 636.73 L177.58 638.8 L177.3 640.34 L177.87 641.51 L177.82 641.86 L177.77 643.85 L177.9 644.85 L177.94 646.98 L178.49 648.35 L178.58 649.64 L178.23 649.81 L179.13 651.94 L178.76 654.13 L179 654.62 L179.3 655.39 L179.57 656.51 L179.52 658.34 L179.93 660.85 L179.88 661.85 L180.08 661.86 L180.08 664.45 L180.38 665.38 L180.35 665.77 L180.93 667.79 L181.23 669.91 L181.68 669.8 L181.56 671.99 L181.92 673.08 L182.34 675.26 L182.79 676.32 L183.49 677.32 L183.92 678.46 L185.35 679.53 L186.54 680.77 L188.13 681.17 L189.62 681.69" fill="none" stroke="#6a6a6a" stroke-width="1.65" stroke-linejoin="round" stroke-linecap="round"/>
<path d="M142.69 681.7 L144.23 681.68 L145.79 681.7 L147.32 681.7 L148.85 681.69 L150.4 681.46 L151.93 681.16 L153.47 681.06 L155 680.77 L156.35 680.54 L157.77 679.93 L158.96 679.69 L160.38 679.23 L161.87 678.26 L162.74 677.65 L164.23 676.15 L165.12 674.35 L165.43 673.99 L166.75 673.38 L167.31 671.54 L168.13 670.87 L168.54 669.21 L169 668.16 L169.14 665.94 L169.62 665.38 L169.87 664.81 L170.41 662.88 L170.61 661.94 L170.57 660.39 L170.9 658.9 L170.95 657.71 L171.62 656.15 L172.12 655.02 L172.16 653.82 L172.2 651.42 L172.35 651.15 L172.63 649.3 L173.18 647.88 L173.15 646.92 L173.71 646.43 L173.36 644.29 L173.86 642.67 L174.38 641.56 L174.31 640.27 L174.69 639.23 L175.12 637.72 L175.27 636.07 L176.07 635.09 L176.23 633.08 L176.47 631.47 L177.06 630.72 L177.73 628.74 L177.77 626.92 L177.95 625.32 L178.18 623.56 L178.85 623.08 L179.62 621.08 L180.04 622.4 L180.01 623.21 L180.54 625.38 L180.61 627.06 L181.34 628.22 L181.85 630.03 L181.92 631.54 L181.98 632.29 L183.07 635.26 L183.05 635.42 L183.46 637.69 L184.37 639.66 L185 640.77 L185.04 641.64 L185.75 642.91 L186 644.27 L185.81 646.13 L185.91 647.55 L186.54 648.46 L187.26 649.36 L187.24 650.75 L187.95 653.47 L188.08 654.62 L188.8 656.73 L188.46 658 L189.5 659.34 L189.62 660.77 L189.77 661.85 L190.52 663.32 L190.4 666 L191.15 666.92 L191.47 668.7 L191.62 669.95 L192.2 672.21 L192.69 673.08 L192.91 675.01 L193.42 676.22 L194.14 676.58 L194.69 678.46 L195.7 679.48 L196.54 680.77 L198.12 681.3 L199.62 681.69 L201.16 681.7 L202.69 681.66 L204.21 681.66 L205.76 681.7 L207.31 681.7" fill="none" stroke="#0a0a0a" stroke-width="1.8" stroke-linejoin="round" stroke-linecap="round"/>
<rect x="75" y="14.92" width="65.85" height="65.54" fill="none" stroke="#555" stroke-width="1.1"/>
<path d="M75 14.42 V80.96" stroke="#262626" stroke-width="1.35" fill="none"/>
<path d="M75 80.06 h-2.3M75 67.73 h-2.3M75 55.41 h-2.3M75 43.08 h-2.3M75 30.75 h-2.3M75 18.42 h-2.3" stroke="#333" stroke-width="0.7" fill="none"/>
<path d="M75 78.83 h-1.5M75 77.6 h-1.5M75 76.36 h-1.5M75 75.13 h-1.5M75 73.9 h-1.5M75 72.66 h-1.5M75 71.43 h-1.5M75 70.2 h-1.5M75 68.97 h-1.5M75 66.5 h-1.5M75 65.27 h-1.5M75 64.04 h-1.5M75 62.8 h-1.5M75 61.57 h-1.5M75 60.34 h-1.5M75 59.1 h-1.5M75 57.87 h-1.5M75 56.64 h-1.5M75 54.17 h-1.5M75 52.94 h-1.5M75 51.71 h-1.5M75 50.48 h-1.5M75 49.24 h-1.5M75 48.01 h-1.5M75 46.78 h-1.5M75 45.54 h-1.5M75 44.31 h-1.5M75 41.85 h-1.5M75 40.61 h-1.5M75 39.38 h-1.5M75 38.15 h-1.5M75 36.91 h-1.5M75 35.68 h-1.5M75 34.45 h-1.5M75 33.22 h-1.5M75 31.98 h-1.5M75 29.52 h-1.5M75 28.29 h-1.5M75 27.05 h-1.5M75 25.82 h-1.5M75 24.59 h-1.5M75 23.35 h-1.5M75 22.12 h-1.5M75 20.89 h-1.5M75 19.66 h-1.5" stroke="#444" stroke-width="0.55" fill="none"/>
<text x="71.6" y="81.06" font-size="2.8" text-anchor="end" fill="#777">0</text>
<text x="71.6" y="68.73" font-size="2.8" text-anchor="end" fill="#777">20</text>
<text x="71.6" y="56.41" font-size="2.8" text-anchor="end" fill="#777">40</text>
<text x="71.6" y="44.08" font-size="2.8" text-anchor="end" fill="#777">60</text>
<text x="71.6" y="31.75" font-size="2.8" text-anchor="end" fill="#777">80</text>
<text x="71.6" y="19.42" font-size="2.8" text-anchor="end" fill="#777">100</text>
<rect x="142.23" y="14.92" width="65.85" height="65.54" fill="none" stroke="#555" stroke-width="1.1"/>
<rect x="75" y="81.15" width="66.15" height="65.85" fill="none" stroke="#555" stroke-width="1.1"/>
<path d="M75 80.65 V147.5" stroke="#262626" stroke-width="1.35" fill="none"/>
<path d="M75 146.6 h-2.3M75 134.21 h-2.3M75 121.82 h-2.3M75 109.43 h-2.3M75 97.04 h-2.3M75 84.65 h-2.3" stroke="#333" stroke-width="0.7" fill="none"/>
<path d="M75 145.36 h-1.5M75 144.12 h-1.5M75 142.88 h-1.5M75 141.64 h-1.5M75 140.41 h-1.5M75 139.17 h-1.5M75 137.93 h-1.5M75 136.69 h-1.5M75 135.45 h-1.5M75 132.97 h-1.5M75 131.73 h-1.5M75 130.49 h-1.5M75 129.26 h-1.5M75 128.02 h-1.5M75 126.78 h-1.5M75 125.54 h-1.5M75 124.3 h-1.5M75 123.06 h-1.5M75 120.58 h-1.5M75 119.34 h-1.5M75 118.1 h-1.5M75 116.87 h-1.5M75 115.63 h-1.5M75 114.39 h-1.5M75 113.15 h-1.5M75 111.91 h-1.5M75 110.67 h-1.5M75 108.19 h-1.5M75 106.95 h-1.5M75 105.72 h-1.5M75 104.48 h-1.5M75 103.24 h-1.5M75 102 h-1.5M75 100.76 h-1.5M75 99.52 h-1.5M75 98.28 h-1.5M75 95.8 h-1.5M75 94.57 h-1.5M75 93.33 h-1.5M75 92.09 h-1.5M75 90.85 h-1.5M75 89.61 h-1.5M75 88.37 h-1.5M75 87.13 h-1.5M75 85.89 h-1.5" stroke="#444" stroke-width="0.55" fill="none"/>
<text x="71.6" y="147.6" font-size="2.8" text-anchor="end" fill="#777">0</text>
<text x="71.6" y="135.21" font-size="2.8" text-anchor="end" fill="#777">20</text>
<text x="71.6" y="122.82" font-size="2.8" text-anchor="end" fill="#777">40</text>
<text x="71.6" y="110.43" font-size="2.8" text-anchor="end" fill="#777">60</text>
<text x="71.6" y="98.04" font-size="2.8" text-anchor="end" fill="#777">80</text>
<text x="71.6" y="85.65" font-size="2.8" text-anchor="end" fill="#777">100</text>
<rect x="142.23" y="81.15" width="65.85" height="65.85" fill="none" stroke="#555" stroke-width="1.1"/>
<rect x="75" y="148.46" width="66.15" height="65.38" fill="none" stroke="#555" stroke-width="1.1"/>
<path d="M75 147.96 V214.35" stroke="#262626" stroke-width="1.35" fill="none"/>
<path d="M75 213.45 h-2.3M75 201.15 h-2.3M75 188.85 h-2.3M75 176.56 h-2.3M75 164.26 h-2.3M75 151.96 h-2.3" stroke="#333" stroke-width="0.7" fill="none"/>
<path d="M75 212.22 h-1.5M75 210.99 h-1.5M75 209.76 h-1.5M75 208.53 h-1.5M75 207.3 h-1.5M75 206.07 h-1.5M75 204.84 h-1.5M75 203.61 h-1.5M75 202.38 h-1.5M75 199.92 h-1.5M75 198.69 h-1.5M75 197.46 h-1.5M75 196.23 h-1.5M75 195 h-1.5M75 193.77 h-1.5M75 192.54 h-1.5M75 191.31 h-1.5M75 190.08 h-1.5M75 187.62 h-1.5M75 186.39 h-1.5M75 185.16 h-1.5M75 183.93 h-1.5M75 182.7 h-1.5M75 181.47 h-1.5M75 180.24 h-1.5M75 179.01 h-1.5M75 177.79 h-1.5M75 175.33 h-1.5M75 174.1 h-1.5M75 172.87 h-1.5M75 171.64 h-1.5M75 170.41 h-1.5M75 169.18 h-1.5M75 167.95 h-1.5M75 166.72 h-1.5M75 165.49 h-1.5M75 163.03 h-1.5M75 161.8 h-1.5M75 160.57 h-1.5M75 159.34 h-1.5M75 158.11 h-1.5M75 156.88 h-1.5M75 155.65 h-1.5M75 154.42 h-1.5M75 153.19 h-1.5" stroke="#444" stroke-width="0.55" fill="none"/>
<text x="71.6" y="214.45" font-size="2.8" text-anchor="end" fill="#777">0</text>
<text x="71.6" y="202.15" font-size="2.8" text-anchor="end" fill="#777">20</text>
<text x="71.6" y="189.85" font-size="2.8" text-anchor="end" fill="#777">40</text>
<text x="71.6" y="177.56" font-size="2.8" text-anchor="end" fill="#777">60</text>
<text x="71.6" y="165.26" font-size="2.8" text-anchor="end" fill="#777">80</text>
<text x="71.6" y="152.96" font-size="2.8" text-anchor="end" fill="#777">100</text>
<rect x="142.23" y="148.46" width="65.85" height="65.38" fill="none" stroke="#555" stroke-width="1.1"/>
<rect x="75" y="215" width="66.15" height="65.69" fill="none" stroke="#555" stroke-width="1.1"/>
<path d="M75 214.5 V281.19" stroke="#262626" stroke-width="1.35" fill="none"/>
<path d="M75 280.29 h-2.3M75 267.93 h-2.3M75 255.58 h-2.3M75 243.22 h-2.3M75 230.86 h-2.3M75 218.5 h-2.3" stroke="#333" stroke-width="0.7" fill="none"/>
<path d="M75 279.06 h-1.5M75 277.82 h-1.5M75 276.58 h-1.5M75 275.35 h-1.5M75 274.11 h-1.5M75 272.88 h-1.5M75 271.64 h-1.5M75 270.41 h-1.5M75 269.17 h-1.5M75 266.7 h-1.5M75 265.46 h-1.5M75 264.23 h-1.5M75 262.99 h-1.5M75 261.75 h-1.5M75 260.52 h-1.5M75 259.28 h-1.5M75 258.05 h-1.5M75 256.81 h-1.5M75 254.34 h-1.5M75 253.1 h-1.5M75 251.87 h-1.5M75 250.63 h-1.5M75 249.4 h-1.5M75 248.16 h-1.5M75 246.92 h-1.5M75 245.69 h-1.5M75 244.45 h-1.5M75 241.98 h-1.5M75 240.75 h-1.5M75 239.51 h-1.5M75 238.27 h-1.5M75 237.04 h-1.5M75 235.8 h-1.5M75 234.57 h-1.5M75 233.33 h-1.5M75 232.09 h-1.5M75 229.62 h-1.5M75 228.39 h-1.5M75 227.15 h-1.5M75 225.92 h-1.5M75 224.68 h-1.5M75 223.44 h-1.5M75 222.21 h-1.5M75 220.97 h-1.5M75 219.74 h-1.5" stroke="#444" stroke-width="0.55" fill="none"/>
<text x="71.6" y="281.29" font-size="2.8" text-anchor="end" fill="#777">0</text>
<text x="71.6" y="268.93" font-size="2.8" text-anchor="end" fill="#777">20</text>
<text x="71.6" y="256.58" font-size="2.8" text-anchor="end" fill="#777">40</text>
<text x="71.6" y="244.22" font-size="2.8" text-anchor="end" fill="#777">60</text>
<text x="71.6" y="231.86" font-size="2.8" text-anchor="end" fill="#777">80</text>
<text x="71.6" y="219.5" font-size="2.8" text-anchor="end" fill="#777">100</text>
<rect x="142.23" y="215" width="65.85" height="66.15" fill="none" stroke="#555" stroke-width="1.1"/>
<rect x="75" y="282.46" width="66.15" height="65.23" fill="none" stroke="#555" stroke-width="1.1"/>
<path d="M75 281.96 V348.19" stroke="#262626" stroke-width="1.35" fill="none"/>
<path d="M75 347.29 h-2.3M75 335.03 h-2.3M75 322.76 h-2.3M75 310.49 h-2.3M75 298.23 h-2.3M75 285.96 h-2.3" stroke="#333" stroke-width="0.7" fill="none"/>
<path d="M75 346.07 h-1.5M75 344.84 h-1.5M75 343.61 h-1.5M75 342.39 h-1.5M75 341.16 h-1.5M75 339.93 h-1.5M75 338.71 h-1.5M75 337.48 h-1.5M75 336.25 h-1.5M75 333.8 h-1.5M75 332.57 h-1.5M75 331.35 h-1.5M75 330.12 h-1.5M75 328.89 h-1.5M75 327.67 h-1.5M75 326.44 h-1.5M75 325.21 h-1.5M75 323.99 h-1.5M75 321.53 h-1.5M75 320.31 h-1.5M75 319.08 h-1.5M75 317.85 h-1.5M75 316.63 h-1.5M75 315.4 h-1.5M75 314.17 h-1.5M75 312.95 h-1.5M75 311.72 h-1.5M75 309.27 h-1.5M75 308.04 h-1.5M75 306.81 h-1.5M75 305.59 h-1.5M75 304.36 h-1.5M75 303.13 h-1.5M75 301.91 h-1.5M75 300.68 h-1.5M75 299.45 h-1.5M75 297 h-1.5M75 295.77 h-1.5M75 294.55 h-1.5M75 293.32 h-1.5M75 292.09 h-1.5M75 290.87 h-1.5M75 289.64 h-1.5M75 288.41 h-1.5M75 287.19 h-1.5" stroke="#444" stroke-width="0.55" fill="none"/>
<text x="71.6" y="348.29" font-size="2.8" text-anchor="end" fill="#777">0</text>
<text x="71.6" y="336.03" font-size="2.8" text-anchor="end" fill="#777">20</text>
<text x="71.6" y="323.76" font-size="2.8" text-anchor="end" fill="#777">40</text>
<text x="71.6" y="311.49" font-size="2.8" text-anchor="end" fill="#777">60</text>
<text x="71.6" y="299.23" font-size="2.8" text-anchor="end" fill="#777">80</text>
<text x="71.6" y="286.96" font-size="2.8" text-anchor="end" fill="#777">100</text>
<rect x="142.23" y="282.46" width="65.85" height="65.69" fill="none" stroke="#555" stroke-width="1.1"/>
<rect x="75" y="349.23" width="66.15" height="65.38" fill="none" stroke="#555" stroke-width="1.1"/>
<path d="M75 348.73 V415.12" stroke="#262626" stroke-width="1.35" fill="none"/>
<path d="M75 414.22 h-2.3M75 401.92 h-2.3M75 389.62 h-2.3M75 377.32 h-2.3M75 365.03 h-2.3M75 352.73 h-2.3" stroke="#333" stroke-width="0.7" fill="none"/>
<path d="M75 412.99 h-1.5M75 411.76 h-1.5M75 410.53 h-1.5M75 409.3 h-1.5M75 408.07 h-1.5M75 406.84 h-1.5M75 405.61 h-1.5M75 404.38 h-1.5M75 403.15 h-1.5M75 400.69 h-1.5M75 399.46 h-1.5M75 398.23 h-1.5M75 397 h-1.5M75 395.77 h-1.5M75 394.54 h-1.5M75 393.31 h-1.5M75 392.08 h-1.5M75 390.85 h-1.5M75 388.39 h-1.5M75 387.16 h-1.5M75 385.93 h-1.5M75 384.7 h-1.5M75 383.47 h-1.5M75 382.24 h-1.5M75 381.01 h-1.5M75 379.78 h-1.5M75 378.55 h-1.5M75 376.09 h-1.5M75 374.87 h-1.5M75 373.64 h-1.5M75 372.41 h-1.5M75 371.18 h-1.5M75 369.95 h-1.5M75 368.72 h-1.5M75 367.49 h-1.5M75 366.26 h-1.5M75 363.8 h-1.5M75 362.57 h-1.5M75 361.34 h-1.5M75 360.11 h-1.5M75 358.88 h-1.5M75 357.65 h-1.5M75 356.42 h-1.5M75 355.19 h-1.5M75 353.96 h-1.5" stroke="#444" stroke-width="0.55" fill="none"/>
<text x="71.6" y="415.22" font-size="2.8" text-anchor="end" fill="#777">0</text>
<text x="71.6" y="402.92" font-size="2.8" text-anchor="end" fill="#777">20</text>
<text x="71.6" y="390.62" font-size="2.8" text-anchor="end" fill="#777">40</text>
<text x="71.6" y="378.32" font-size="2.8" text-anchor="end" fill="#777">60</text>
<text x="71.6" y="366.03" font-size="2.8" text-anchor="end" fill="#777">80</text>
<text x="71.6" y="353.73" font-size="2.8" text-anchor="end" fill="#777">100</text>
<rect x="142.23" y="349.23" width="65.85" height="65.38" fill="none" stroke="#555" stroke-width="1.1"/>
<rect x="75" y="415.69" width="66.15" height="65.38" fill="none" stroke="#555" stroke-width="1.1"/>
<path d="M75 415.19 V481.58" stroke="#262626" stroke-width="1.35" fill="none"/>
<path d="M75 480.68 h-2.3M75 468.38 h-2.3M75 456.08 h-2.3M75 443.79 h-2.3M75 431.49 h-2.3M75 419.19 h-2.3" stroke="#333" stroke-width="0.7" fill="none"/>
<path d="M75 479.45 h-1.5M75 478.22 h-1.5M75 476.99 h-1.5M75 475.76 h-1.5M75 474.53 h-1.5M75 473.3 h-1.5M75 472.07 h-1.5M75 470.84 h-1.5M75 469.61 h-1.5M75 467.15 h-1.5M75 465.92 h-1.5M75 464.69 h-1.5M75 463.46 h-1.5M75 462.23 h-1.5M75 461 h-1.5M75 459.77 h-1.5M75 458.54 h-1.5M75 457.31 h-1.5M75 454.85 h-1.5M75 453.62 h-1.5M75 452.39 h-1.5M75 451.16 h-1.5M75 449.93 h-1.5M75 448.7 h-1.5M75 447.48 h-1.5M75 446.25 h-1.5M75 445.02 h-1.5M75 442.56 h-1.5M75 441.33 h-1.5M75 440.1 h-1.5M75 438.87 h-1.5M75 437.64 h-1.5M75 436.41 h-1.5M75 435.18 h-1.5M75 433.95 h-1.5M75 432.72 h-1.5M75 430.26 h-1.5M75 429.03 h-1.5M75 427.8 h-1.5M75 426.57 h-1.5M75 425.34 h-1.5M75 424.11 h-1.5M75 422.88 h-1.5M75 421.65 h-1.5M75 420.42 h-1.5" stroke="#444" stroke-width="0.55" fill="none"/>
<text x="71.6" y="481.68" font-size="2.8" text-anchor="end" fill="#777">0</text>
<text x="71.6" y="469.38" font-size="2.8" text-anchor="end" fill="#777">20</text>
<text x="71.6" y="457.08" font-size="2.8" text-anchor="end" fill="#777">40</text>
<text x="71.6" y="444.79" font-size="2.8" text-anchor="end" fill="#777">60</text>
<text x="71.6" y="432.49" font-size="2.8" text-anchor="end" fill="#777">80</text>
<text x="71.6" y="420.19" font-size="2.8" text-anchor="end" fill="#777">100</text>
<rect x="142.23" y="415.69" width="65.85" height="65.38" fill="none" stroke="#555" stroke-width="1.1"/>
<path d="M142.53 415.09 V481.08" stroke="#111" stroke-width="1.9" fill="none"/>
<rect x="75" y="482.38" width="66.15" height="65.69" fill="none" stroke="#555" stroke-width="1.1"/>
<path d="M75 481.88 V548.58" stroke="#262626" stroke-width="1.35" fill="none"/>
<path d="M75 547.68 h-2.3M75 535.32 h-2.3M75 522.96 h-2.3M75 510.6 h-2.3M75 498.24 h-2.3M75 485.88 h-2.3" stroke="#333" stroke-width="0.7" fill="none"/>
<path d="M75 546.44 h-1.5M75 545.21 h-1.5M75 543.97 h-1.5M75 542.73 h-1.5M75 541.5 h-1.5M75 540.26 h-1.5M75 539.03 h-1.5M75 537.79 h-1.5M75 536.55 h-1.5M75 534.08 h-1.5M75 532.85 h-1.5M75 531.61 h-1.5M75 530.38 h-1.5M75 529.14 h-1.5M75 527.9 h-1.5M75 526.67 h-1.5M75 525.43 h-1.5M75 524.2 h-1.5M75 521.72 h-1.5M75 520.49 h-1.5M75 519.25 h-1.5M75 518.02 h-1.5M75 516.78 h-1.5M75 515.54 h-1.5M75 514.31 h-1.5M75 513.07 h-1.5M75 511.84 h-1.5M75 509.37 h-1.5M75 508.13 h-1.5M75 506.89 h-1.5M75 505.66 h-1.5M75 504.42 h-1.5M75 503.19 h-1.5M75 501.95 h-1.5M75 500.71 h-1.5M75 499.48 h-1.5M75 497.01 h-1.5M75 495.77 h-1.5M75 494.54 h-1.5M75 493.3 h-1.5M75 492.06 h-1.5M75 490.83 h-1.5M75 489.59 h-1.5M75 488.36 h-1.5M75 487.12 h-1.5" stroke="#444" stroke-width="0.55" fill="none"/>
<text x="71.6" y="548.68" font-size="2.8" text-anchor="end" fill="#777">0</text>
<text x="71.6" y="536.32" font-size="2.8" text-anchor="end" fill="#777">20</text>
<text x="71.6" y="523.96" font-size="2.8" text-anchor="end" fill="#777">40</text>
<text x="71.6" y="511.6" font-size="2.8" text-anchor="end" fill="#777">60</text>
<text x="71.6" y="499.24" font-size="2.8" text-anchor="end" fill="#777">80</text>
<text x="71.6" y="486.88" font-size="2.8" text-anchor="end" fill="#777">100</text>
<rect x="142.23" y="482.38" width="65.85" height="65.69" fill="none" stroke="#555" stroke-width="1.1"/>
<rect x="75" y="549.38" width="66.15" height="65.69" fill="none" stroke="#555" stroke-width="1.1"/>
<path d="M75 548.88 V615.58" stroke="#262626" stroke-width="1.35" fill="none"/>
<path d="M75 614.68 h-2.3M75 602.32 h-2.3M75 589.96 h-2.3M75 577.6 h-2.3M75 565.24 h-2.3M75 552.88 h-2.3" stroke="#333" stroke-width="0.7" fill="none"/>
<path d="M75 613.44 h-1.5M75 612.21 h-1.5M75 610.97 h-1.5M75 609.73 h-1.5M75 608.5 h-1.5M75 607.26 h-1.5M75 606.03 h-1.5M75 604.79 h-1.5M75 603.55 h-1.5M75 601.08 h-1.5M75 599.85 h-1.5M75 598.61 h-1.5M75 597.38 h-1.5M75 596.14 h-1.5M75 594.9 h-1.5M75 593.67 h-1.5M75 592.43 h-1.5M75 591.2 h-1.5M75 588.72 h-1.5M75 587.49 h-1.5M75 586.25 h-1.5M75 585.02 h-1.5M75 583.78 h-1.5M75 582.54 h-1.5M75 581.31 h-1.5M75 580.07 h-1.5M75 578.84 h-1.5M75 576.37 h-1.5M75 575.13 h-1.5M75 573.89 h-1.5M75 572.66 h-1.5M75 571.42 h-1.5M75 570.19 h-1.5M75 568.95 h-1.5M75 567.71 h-1.5M75 566.48 h-1.5M75 564.01 h-1.5M75 562.77 h-1.5M75 561.54 h-1.5M75 560.3 h-1.5M75 559.06 h-1.5M75 557.83 h-1.5M75 556.59 h-1.5M75 555.36 h-1.5M75 554.12 h-1.5" stroke="#444" stroke-width="0.55" fill="none"/>
<text x="71.6" y="615.68" font-size="2.8" text-anchor="end" fill="#777">0</text>
<text x="71.6" y="603.32" font-size="2.8" text-anchor="end" fill="#777">20</text>
<text x="71.6" y="590.96" font-size="2.8" text-anchor="end" fill="#777">40</text>
<text x="71.6" y="578.6" font-size="2.8" text-anchor="end" fill="#777">60</text>
<text x="71.6" y="566.24" font-size="2.8" text-anchor="end" fill="#777">80</text>
<text x="71.6" y="553.88" font-size="2.8" text-anchor="end" fill="#777">100</text>
<rect x="142.23" y="549.38" width="65.85" height="65.69" fill="none" stroke="#555" stroke-width="1.1"/>
<rect x="75" y="616.46" width="66.15" height="65.54" fill="none" stroke="#555" stroke-width="1.1"/>
<path d="M75 615.96 V682.5" stroke="#262626" stroke-width="1.35" fill="none"/>
<path d="M75 681.6 h-2.3M75 669.27 h-2.3M75 656.94 h-2.3M75 644.62 h-2.3M75 632.29 h-2.3M75 619.96 h-2.3" stroke="#333" stroke-width="0.7" fill="none"/>
<path d="M75 680.37 h-1.5M75 679.13 h-1.5M75 677.9 h-1.5M75 676.67 h-1.5M75 675.44 h-1.5M75 674.2 h-1.5M75 672.97 h-1.5M75 671.74 h-1.5M75 670.51 h-1.5M75 668.04 h-1.5M75 666.81 h-1.5M75 665.57 h-1.5M75 664.34 h-1.5M75 663.11 h-1.5M75 661.88 h-1.5M75 660.64 h-1.5M75 659.41 h-1.5M75 658.18 h-1.5M75 655.71 h-1.5M75 654.48 h-1.5M75 653.25 h-1.5M75 652.01 h-1.5M75 650.78 h-1.5M75 649.55 h-1.5M75 648.32 h-1.5M75 647.08 h-1.5M75 645.85 h-1.5M75 643.38 h-1.5M75 642.15 h-1.5M75 640.92 h-1.5M75 639.69 h-1.5M75 638.45 h-1.5M75 637.22 h-1.5M75 635.99 h-1.5M75 634.75 h-1.5M75 633.52 h-1.5M75 631.06 h-1.5M75 629.82 h-1.5M75 628.59 h-1.5M75 627.36 h-1.5M75 626.13 h-1.5M75 624.89 h-1.5M75 623.66 h-1.5M75 622.43 h-1.5M75 621.19 h-1.5" stroke="#444" stroke-width="0.55" fill="none"/>
<text x="71.6" y="682.6" font-size="2.8" text-anchor="end" fill="#777">0</text>
<text x="71.6" y="670.27" font-size="2.8" text-anchor="end" fill="#777">20</text>
<text x="71.6" y="657.94" font-size="2.8" text-anchor="end" fill="#777">40</text>
<text x="71.6" y="645.62" font-size="2.8" text-anchor="end" fill="#777">60</text>
<text x="71.6" y="633.29" font-size="2.8" text-anchor="end" fill="#777">80</text>
<text x="71.6" y="620.96" font-size="2.8" text-anchor="end" fill="#777">100</text>
<rect x="142.23" y="616.46" width="65.85" height="65.54" fill="none" stroke="#555" stroke-width="1.1"/>
<text x="81.4" y="689" font-size="3.1" text-anchor="middle" fill="#777">10<tspan dy="-1.2" font-size="2.1">0</tspan></text>
<text x="94.85" y="689" font-size="3.1" text-anchor="middle" fill="#777">10<tspan dy="-1.2" font-size="2.1">1</tspan></text>
<text x="108.3" y="689" font-size="3.1" text-anchor="middle" fill="#777">10<tspan dy="-1.2" font-size="2.1">2</tspan></text>
<text x="121.75" y="689" font-size="3.1" text-anchor="middle" fill="#777">10<tspan dy="-1.2" font-size="2.1">3</tspan></text>
<text x="135.2" y="689" font-size="3.1" text-anchor="middle" fill="#777">10<tspan dy="-1.2" font-size="2.1">4</tspan></text>
<path d="M81.4 682.6 v1.6M94.85 682.6 v1.6M108.3 682.6 v1.6M121.75 682.6 v1.6M135.2 682.6 v1.6" stroke="#666" stroke-width="0.6" fill="none"/>
<text x="148.63" y="689" font-size="3.1" text-anchor="middle" fill="#777">10<tspan dy="-1.2" font-size="2.1">0</tspan></text>
<text x="162.08" y="689" font-size="3.1" text-anchor="middle" fill="#777">10<tspan dy="-1.2" font-size="2.1">1</tspan></text>
<text x="175.53" y="689" font-size="3.1" text-anchor="middle" fill="#777">10<tspan dy="-1.2" font-size="2.1">2</tspan></text>
<text x="188.98" y="689" font-size="3.1" text-anchor="middle" fill="#777">10<tspan dy="-1.2" font-size="2.1">3</tspan></text>
<text x="202.43" y="689" font-size="3.1" text-anchor="middle" fill="#777">10<tspan dy="-1.2" font-size="2.1">4</tspan></text>
<path d="M148.63 682.6 v1.6M162.08 682.6 v1.6M175.53 682.6 v1.6M188.98 682.6 v1.6M202.43 682.6 v1.6" stroke="#666" stroke-width="0.6" fill="none"/>
<text class="b" x="108" y="7.9" font-size="10.7" text-anchor="middle" >CD4+CD25+</text>
<text class="b" x="177.7" y="7.9" font-size="10.7" text-anchor="middle" >CD4+CD25-</text>
<text class="b" x="0.5" y="24.02" font-size="12.4" text-anchor="start" >A</text>
<text class="b" x="62.3" y="47.49" font-size="11.3" text-anchor="end" >SPL</text>
<text class="b" x="62.5" y="115.68" font-size="11.3" text-anchor="end" >LN</text>
<text class="b" x="56.6" y="86.5" font-size="14.4" font-style="italic" text-anchor="end" letter-spacing="0.4">CD103</text>
<text class="b" x="0.5" y="157.56" font-size="12.4" text-anchor="start" >B</text>
<text class="b" x="62.3" y="180.95" font-size="11.3" text-anchor="end" >SPL</text>
<text class="b" x="62.5" y="249.45" font-size="11.3" text-anchor="end" >LN</text>
<text class="b" x="56.8" y="220.3" font-size="14.4" font-style="italic" text-anchor="end" letter-spacing="0.4">GITR</text>
<text class="b" x="0.5" y="291.56" font-size="12.4" text-anchor="start" >C</text>
<text class="b" x="62.3" y="314.88" font-size="11.3" text-anchor="end" >SPL</text>
<text class="b" x="62.5" y="383.52" font-size="11.3" text-anchor="end" >LN</text>
<text class="b" x="58.6" y="353.5" font-size="14.4" font-style="italic" text-anchor="end" letter-spacing="0.4">OX40</text>
<text class="b" x="0.5" y="424.79" font-size="12.4" text-anchor="start" >D</text>
<text class="b" x="62.3" y="448.18" font-size="11.3" text-anchor="end" >SPL</text>
<text class="b" x="62.5" y="516.83" font-size="11.3" text-anchor="end" >LN</text>
<text class="b" x="58.3" y="486.6" font-size="14.4" font-style="italic" text-anchor="end" letter-spacing="0.4">CD127</text>
<text class="b" x="0.5" y="558.48" font-size="12.4" text-anchor="start" >E</text>
<text class="b" x="62.3" y="582.03" font-size="11.3" text-anchor="end" >SPL</text>
<text class="b" x="62.5" y="650.83" font-size="11.3" text-anchor="end" >LN</text>
<text class="b" x="59.3" y="619.1" font-size="14.2" font-style="italic" text-anchor="end" letter-spacing="0.18">Fc<tspan font-weight="normal" font-size="13">γ</tspan>RII/III</text>
<path d="M259.7 89.8 V87 M255 87 H264.4" stroke="#111" stroke-width="1.3" fill="none"/>
<rect x="250.2" y="89.8" width="19" height="25.4" fill="#b2b2b2" stroke="#111" stroke-width="1.2"/>
<path d="M288.5 41.5 V38.8 M283.8 38.8 H293.2" stroke="#111" stroke-width="1.3" fill="none"/>
<rect x="279" y="41.5" width="19" height="73.7" fill="#2b2b2b" stroke="#111" stroke-width="1.2"/>
<path d="M317.25 86 V83.4 M312.55 83.4 H321.95" stroke="#111" stroke-width="1.3" fill="none"/>
<rect x="307.7" y="86" width="19.1" height="29.2" fill="#b2b2b2" stroke="#111" stroke-width="1.2"/>
<path d="M345.85 68.3 V65.2 M341.15 65.2 H350.55" stroke="#111" stroke-width="1.3" fill="none"/>
<rect x="336.3" y="68.3" width="19.1" height="46.9" fill="#2b2b2b" stroke="#111" stroke-width="1.2"/>
<path d="M246.4 31.4 V115.3 H357" stroke="#050505" stroke-width="1.4" fill="none"/>
<text class="t" x="242.6" y="34.35" font-size="6.9" text-anchor="end">80</text>
<text class="t" x="242.6" y="55.15" font-size="6.9" text-anchor="end">60</text>
<text class="t" x="242.6" y="76.05" font-size="6.9" text-anchor="end">40</text>
<text class="t" x="242.6" y="96.85" font-size="6.9" text-anchor="end">20</text>
<text class="t" x="242.6" y="117.65" font-size="6.9" text-anchor="end">0</text>
<path d="M246.4 31.9 h-3.3M246.4 52.7 h-3.3M246.4 73.6 h-3.3M246.4 94.4 h-3.3M246.4 115.2 h-3.3" stroke="#111" stroke-width="1.1" fill="none"/>
<path d="M255.4 35.5 H290" stroke="#1a1a1a" stroke-width="1.15" fill="none"/>
<text class="b" x="273.4" y="34.9" font-size="10.4" text-anchor="middle" letter-spacing="0.9">***</text>
<path d="M314.5 62.5 H348.2" stroke="#1a1a1a" stroke-width="1.15" fill="none"/>
<text class="b" x="332.4" y="61.5" font-size="10.4" text-anchor="middle" letter-spacing="0.9">**</text>
<path d="M250 121.6 H300" stroke="#111" stroke-width="1.25" fill="none"/>
<path d="M307.7 121.6 H357" stroke="#111" stroke-width="1.25" fill="none"/>
<text class="c" x="274.8" y="130.3" font-size="10.2" text-anchor="middle" >SPL</text>
<text class="c" x="332.3" y="130.3" font-size="10.2" text-anchor="middle" >LN</text>
<text class="c" transform="translate(226.1 72.3) rotate(-90)" font-size="10.4" text-anchor="middle">% Frequency</text>
<text class="c" x="303.9" y="14.7" font-size="12" text-anchor="middle" >CD4+CD25+</text>
<path d="M413 109.8 V107.4 M408.3 107.4 H417.7" stroke="#111" stroke-width="1.3" fill="none"/>
<rect x="403" y="109.8" width="20" height="5.2" fill="#b2b2b2" stroke="#111" stroke-width="1.2"/>
<path d="M441.55 61.5 V43.7 M436.85 43.7 H446.25" stroke="#111" stroke-width="1.3" fill="none"/>
<rect x="431.7" y="61.5" width="19.7" height="53.5" fill="#2b2b2b" stroke="#111" stroke-width="1.2"/>
<path d="M470.3 111.4 V109.8 M465.6 109.8 H475" stroke="#111" stroke-width="1.3" fill="none"/>
<rect x="460.6" y="111.4" width="19.4" height="3.6" fill="#b2b2b2" stroke="#111" stroke-width="1.2"/>
<path d="M499.1 104.6 V99 M494.4 99 H503.8" stroke="#111" stroke-width="1.3" fill="none"/>
<rect x="489.2" y="104.6" width="19.8" height="10.4" fill="#2b2b2b" stroke="#111" stroke-width="1.2"/>
<path d="M398.5 29.3 V115.1 H509.8" stroke="#050505" stroke-width="1.4" fill="none"/>
<text class="t" x="394.7" y="32.25" font-size="6.9" text-anchor="end">20</text>
<text class="t" x="394.7" y="53.85" font-size="6.9" text-anchor="end">15</text>
<text class="t" x="394.7" y="75.35" font-size="6.9" text-anchor="end">10</text>
<text class="t" x="394.7" y="96.25" font-size="6.9" text-anchor="end">5</text>
<text class="t" x="394.7" y="117.45" font-size="6.9" text-anchor="end">0</text>
<path d="M398.5 29.8 h-3.3M398.5 51.4 h-3.3M398.5 72.9 h-3.3M398.5 93.8 h-3.3M398.5 115 h-3.3" stroke="#111" stroke-width="1.1" fill="none"/>
<path d="M409.2 39.5 H443.7" stroke="#1a1a1a" stroke-width="1.15" fill="none"/>
<text class="b" x="426.4" y="38.7" font-size="10.4" text-anchor="middle" letter-spacing="0.9">***</text>
<path d="M467.7 95.5 H501.5" stroke="#1a1a1a" stroke-width="1.15" fill="none"/>
<text class="b" x="485" y="94.7" font-size="10.4" text-anchor="middle" letter-spacing="0.9">*</text>
<path d="M403 120.6 H453.2" stroke="#111" stroke-width="1.25" fill="none"/>
<path d="M461 120.6 H510" stroke="#111" stroke-width="1.25" fill="none"/>
<text class="c" x="427.7" y="130.3" font-size="10.2" text-anchor="middle" >SPL</text>
<text class="c" x="485.3" y="130.3" font-size="10.2" text-anchor="middle" >LN</text>
<text class="c" transform="translate(381 73) rotate(-90)" font-size="10.4" text-anchor="middle">% Frequency</text>
<text class="c" x="454.4" y="14.7" font-size="12" text-anchor="middle" >CD4+CD25-</text>
<path d="M266.65 211.7 V209.8 M261.95 209.8 H271.35" stroke="#111" stroke-width="1.3" fill="none"/>
<rect x="257" y="211.7" width="19.3" height="35.7" fill="#b2b2b2" stroke="#111" stroke-width="1.2"/>
<path d="M295.7 174.5 V171.4 M291 171.4 H300.4" stroke="#111" stroke-width="1.3" fill="none"/>
<rect x="286.2" y="174.5" width="19" height="72.9" fill="#2b2b2b" stroke="#111" stroke-width="1.2"/>
<path d="M324.3 223.4 V221.8 M319.6 221.8 H329" stroke="#111" stroke-width="1.3" fill="none"/>
<rect x="314.8" y="223.4" width="19" height="24" fill="#b2b2b2" stroke="#111" stroke-width="1.2"/>
<path d="M352.75 209.2 V207 M348.05 207 H357.45" stroke="#111" stroke-width="1.3" fill="none"/>
<rect x="343" y="209.2" width="19.5" height="38.2" fill="#2b2b2b" stroke="#111" stroke-width="1.2"/>
<path d="M252.3 163.2 V247.5 H363" stroke="#050505" stroke-width="1.4" fill="none"/>
<text class="t" x="248.5" y="166.15" font-size="6.9" text-anchor="end">20000</text>
<text class="t" x="248.5" y="187.05" font-size="6.9" text-anchor="end">15000</text>
<text class="t" x="248.5" y="208.25" font-size="6.9" text-anchor="end">10000</text>
<text class="t" x="248.5" y="229.25" font-size="6.9" text-anchor="end">5000</text>
<text class="t" x="248.5" y="249.85" font-size="6.9" text-anchor="end">0</text>
<path d="M252.3 163.7 h-3.3M252.3 184.6 h-3.3M252.3 205.8 h-3.3M252.3 226.8 h-3.3M252.3 247.4 h-3.3" stroke="#111" stroke-width="1.1" fill="none"/>
<path d="M263 167.5 H297" stroke="#1a1a1a" stroke-width="1.15" fill="none"/>
<text class="b" x="280.4" y="166.4" font-size="10.4" text-anchor="middle" letter-spacing="0.9">***</text>
<path d="M321.5 203.5 H355.4" stroke="#1a1a1a" stroke-width="1.15" fill="none"/>
<text class="b" x="339.4" y="202.4" font-size="10.4" text-anchor="middle" letter-spacing="0.9">**</text>
<path d="M255.4 255.6 H304.6" stroke="#111" stroke-width="1.25" fill="none"/>
<path d="M313.2 255.6 H362.5" stroke="#111" stroke-width="1.25" fill="none"/>
<text class="c" x="279.4" y="266.3" font-size="10.2" text-anchor="middle" >SPL</text>
<text class="c" x="337.3" y="266.3" font-size="10.2" text-anchor="middle" >LN</text>
<text class="c" transform="translate(226 201.8) rotate(-90)" font-size="9.9" text-anchor="middle">MFI</text>
<path d="M412.9 241.5 V239.7 M408.2 239.7 H417.6" stroke="#111" stroke-width="1.3" fill="none"/>
<rect x="403" y="241.5" width="19.8" height="6.2" fill="#b2b2b2" stroke="#111" stroke-width="1.2"/>
<path d="M441.55 193.8 V178.5 M436.85 178.5 H446.25" stroke="#111" stroke-width="1.3" fill="none"/>
<rect x="431.7" y="193.8" width="19.7" height="53.9" fill="#2b2b2b" stroke="#111" stroke-width="1.2"/>
<path d="M470.3 244.3 V242.8 M465.6 242.8 H475" stroke="#111" stroke-width="1.3" fill="none"/>
<rect x="460.6" y="244.3" width="19.4" height="3.4" fill="#b2b2b2" stroke="#111" stroke-width="1.2"/>
<path d="M499.1 236.3 V229.8 M494.4 229.8 H503.8" stroke="#111" stroke-width="1.3" fill="none"/>
<rect x="489.2" y="236.3" width="19.8" height="11.4" fill="#2b2b2b" stroke="#111" stroke-width="1.2"/>
<path d="M398.5 160.5 V247.8 H510" stroke="#050505" stroke-width="1.4" fill="none"/>
<text class="t" x="394.7" y="163.45" font-size="6.9" text-anchor="end">40</text>
<text class="t" x="394.7" y="184.95" font-size="6.9" text-anchor="end">30</text>
<text class="t" x="394.7" y="206.45" font-size="6.9" text-anchor="end">20</text>
<text class="t" x="394.7" y="228.25" font-size="6.9" text-anchor="end">10</text>
<text class="t" x="394.7" y="250.15" font-size="6.9" text-anchor="end">0</text>
<path d="M398.5 161 h-3.3M398.5 182.5 h-3.3M398.5 204 h-3.3M398.5 225.8 h-3.3M398.5 247.7 h-3.3" stroke="#111" stroke-width="1.1" fill="none"/>
<path d="M409.2 175.5 H443.7" stroke="#1a1a1a" stroke-width="1.15" fill="none"/>
<text class="b" x="426.4" y="174.5" font-size="10.4" text-anchor="middle" letter-spacing="0.9">***</text>
<path d="M467.7 226.5 H501.5" stroke="#1a1a1a" stroke-width="1.15" fill="none"/>
<text class="b" x="485" y="225.9" font-size="10.4" text-anchor="middle" letter-spacing="0.9">*</text>
<path d="M404.6 255.6 H453.2" stroke="#111" stroke-width="1.25" fill="none"/>
<path d="M462 255.6 H510.8" stroke="#111" stroke-width="1.25" fill="none"/>
<text class="c" x="431" y="266.3" font-size="10.2" text-anchor="middle" >SPL</text>
<text class="c" x="485.2" y="266.3" font-size="10.2" text-anchor="middle" >LN</text>
<text class="c" transform="translate(381 202.2) rotate(-90)" font-size="10.4" text-anchor="middle">% Frequency</text>
<path d="M261.25 353 V351.8 M256.55 351.8 H265.95" stroke="#111" stroke-width="1.3" fill="none"/>
<rect x="251.7" y="353" width="19.1" height="29.3" fill="#b2b2b2" stroke="#111" stroke-width="1.2"/>
<path d="M289.7 316.2 V313 M285 313 H294.4" stroke="#111" stroke-width="1.3" fill="none"/>
<rect x="280" y="316.2" width="19.4" height="66.1" fill="#2b2b2b" stroke="#111" stroke-width="1.2"/>
<path d="M317.85 352.5 V351.2 M313.15 351.2 H322.55" stroke="#111" stroke-width="1.3" fill="none"/>
<rect x="308.3" y="352.5" width="19.1" height="29.8" fill="#b2b2b2" stroke="#111" stroke-width="1.2"/>
<path d="M346 334.6 V330.6 M341.3 330.6 H350.7" stroke="#111" stroke-width="1.3" fill="none"/>
<rect x="336.3" y="334.6" width="19.4" height="47.7" fill="#2b2b2b" stroke="#111" stroke-width="1.2"/>
<path d="M247.1 294.7 V382.4 H357" stroke="#050505" stroke-width="1.4" fill="none"/>
<text class="t" x="243.3" y="297.65" font-size="6.9" text-anchor="end">1200</text>
<text class="t" x="243.3" y="312.15" font-size="6.9" text-anchor="end">1000</text>
<text class="t" x="243.3" y="326.95" font-size="6.9" text-anchor="end">800</text>
<text class="t" x="243.3" y="341.45" font-size="6.9" text-anchor="end">600</text>
<text class="t" x="243.3" y="355.85" font-size="6.9" text-anchor="end">400</text>
<text class="t" x="243.3" y="370.65" font-size="6.9" text-anchor="end">200</text>
<text class="t" x="243.3" y="384.75" font-size="6.9" text-anchor="end">0</text>
<path d="M247.1 295.2 h-3.3M247.1 309.7 h-3.3M247.1 324.5 h-3.3M247.1 339 h-3.3M247.1 353.4 h-3.3M247.1 368.2 h-3.3M247.1 382.3 h-3.3" stroke="#111" stroke-width="1.1" fill="none"/>
<path d="M257 309.5 H291.4" stroke="#1a1a1a" stroke-width="1.15" fill="none"/>
<text class="b" x="274.2" y="308.1" font-size="10.4" text-anchor="middle" letter-spacing="0.9">***</text>
<path d="M314.8 326.5 H349.2" stroke="#1a1a1a" stroke-width="1.15" fill="none"/>
<text class="b" x="331.8" y="325.7" font-size="10.4" text-anchor="middle" letter-spacing="0.9">**</text>
<path d="M250.8 387.6 H300.6" stroke="#111" stroke-width="1.25" fill="none"/>
<path d="M309.2 387.6 H357.8" stroke="#111" stroke-width="1.25" fill="none"/>
<text class="c" x="275.4" y="398.6" font-size="10.2" text-anchor="middle" >SPL</text>
<text class="c" x="332.6" y="398.6" font-size="10.2" text-anchor="middle" >LN</text>
<text class="c" transform="translate(226 337) rotate(-90)" font-size="9.9" text-anchor="middle">MFI</text>
<path d="M412.9 373 V372 M408.2 372 H417.6" stroke="#111" stroke-width="1.3" fill="none"/>
<rect x="403" y="373" width="19.8" height="9.3" fill="#b2b2b2" stroke="#111" stroke-width="1.2"/>
<path d="M441.55 309.4 V300.8 M436.85 300.8 H446.25" stroke="#111" stroke-width="1.3" fill="none"/>
<rect x="431.7" y="309.4" width="19.7" height="72.9" fill="#2b2b2b" stroke="#111" stroke-width="1.2"/>
<path d="M470.3 373.7 V373 M465.6 373 H475" stroke="#111" stroke-width="1.3" fill="none"/>
<rect x="460.6" y="373.7" width="19.4" height="8.6" fill="#b2b2b2" stroke="#111" stroke-width="1.2"/>
<path d="M499.1 363.8 V361.4 M494.4 361.4 H503.8" stroke="#111" stroke-width="1.3" fill="none"/>
<rect x="489.2" y="363.8" width="19.8" height="18.5" fill="#2b2b2b" stroke="#111" stroke-width="1.2"/>
<path d="M398.5 294.7 V382.4 H510" stroke="#050505" stroke-width="1.4" fill="none"/>
<text class="t" x="394.7" y="297.65" font-size="6.9" text-anchor="end">40</text>
<text class="t" x="394.7" y="319.45" font-size="6.9" text-anchor="end">30</text>
<text class="t" x="394.7" y="341.45" font-size="6.9" text-anchor="end">20</text>
<text class="t" x="394.7" y="363.25" font-size="6.9" text-anchor="end">10</text>
<text class="t" x="394.7" y="384.75" font-size="6.9" text-anchor="end">0</text>
<path d="M398.5 295.2 h-3.3M398.5 317 h-3.3M398.5 339 h-3.3M398.5 360.8 h-3.3M398.5 382.3 h-3.3" stroke="#111" stroke-width="1.1" fill="none"/>
<path d="M409.8 297.5 H443.7" stroke="#1a1a1a" stroke-width="1.15" fill="none"/>
<text class="b" x="427.2" y="296.7" font-size="10.4" text-anchor="middle" letter-spacing="0.9">**</text>
<path d="M467.7 357.5 H501.5" stroke="#1a1a1a" stroke-width="1.15" fill="none"/>
<text class="b" x="484.4" y="356.4" font-size="10.4" text-anchor="middle" letter-spacing="0.9">**</text>
<path d="M403.7 387.6 H452.3" stroke="#111" stroke-width="1.25" fill="none"/>
<path d="M461 387.6 H509.8" stroke="#111" stroke-width="1.25" fill="none"/>
<text class="c" x="425.4" y="398.6" font-size="10.2" text-anchor="middle" >SPL</text>
<text class="c" x="480.9" y="398.6" font-size="10.2" text-anchor="middle" >LN</text>
<text class="c" transform="translate(381 337.7) rotate(-90)" font-size="10.4" text-anchor="middle">% Frequency</text>
<path d="M261.25 487 V483.5 M256.55 483.5 H265.95" stroke="#111" stroke-width="1.3" fill="none"/>
<rect x="251.7" y="487" width="19.1" height="31" fill="#b2b2b2" stroke="#111" stroke-width="1.2"/>
<path d="M289.85 448.2 V435.2 M285.15 435.2 H294.55" stroke="#111" stroke-width="1.3" fill="none"/>
<rect x="280.3" y="448.2" width="19.1" height="69.8" fill="#2b2b2b" stroke="#111" stroke-width="1.2"/>
<path d="M318.35 493.4 V492.2 M313.65 492.2 H323.05" stroke="#111" stroke-width="1.3" fill="none"/>
<rect x="309" y="493.4" width="18.7" height="24.6" fill="#b2b2b2" stroke="#111" stroke-width="1.2"/>
<path d="M346.75 483 V479.5 M342.05 479.5 H351.45" stroke="#111" stroke-width="1.3" fill="none"/>
<rect x="337.2" y="483" width="19.1" height="35" fill="#2b2b2b" stroke="#111" stroke-width="1.2"/>
<path d="M247 431.7 V518.1 H361.5" stroke="#050505" stroke-width="1.4" fill="none"/>
<text class="t" x="243.2" y="434.65" font-size="6.9" text-anchor="end">1250</text>
<text class="t" x="243.2" y="451.85" font-size="6.9" text-anchor="end">1000</text>
<text class="t" x="243.2" y="469.05" font-size="6.9" text-anchor="end">750</text>
<text class="t" x="243.2" y="486.25" font-size="6.9" text-anchor="end">500</text>
<text class="t" x="243.2" y="503.45" font-size="6.9" text-anchor="end">250</text>
<text class="t" x="243.2" y="520.45" font-size="6.9" text-anchor="end">0</text>
<path d="M247 432.2 h-3.3M247 449.4 h-3.3M247 466.6 h-3.3M247 483.8 h-3.3M247 501 h-3.3M247 518 h-3.3" stroke="#111" stroke-width="1.1" fill="none"/>
<path d="M257 431.5 H291.4" stroke="#1a1a1a" stroke-width="1.15" fill="none"/>
<text class="b" x="274.2" y="429.7" font-size="10.4" text-anchor="middle" letter-spacing="0.9">***</text>
<path d="M315.4 475.5 H349.2" stroke="#1a1a1a" stroke-width="1.15" fill="none"/>
<text class="b" x="332.7" y="474.9" font-size="10.4" text-anchor="middle" letter-spacing="0.9">*</text>
<path d="M249.8 523.6 H300" stroke="#111" stroke-width="1.25" fill="none"/>
<path d="M308.3 523.6 H357.5" stroke="#111" stroke-width="1.25" fill="none"/>
<text class="c" x="274.8" y="534.9" font-size="10.2" text-anchor="middle" >SPL</text>
<text class="c" x="331.7" y="534.9" font-size="10.2" text-anchor="middle" >LN</text>
<text class="c" transform="translate(226 472.2) rotate(-90)" font-size="9.9" text-anchor="middle">MFI</text>
<path d="M419.1 461.7 V459.5 M414.4 459.5 H423.8" stroke="#111" stroke-width="1.3" fill="none"/>
<rect x="409.2" y="461.7" width="19.8" height="56.3" fill="#b2b2b2" stroke="#111" stroke-width="1.2"/>
<path d="M447.65 495.2 V493 M442.95 493 H452.35" stroke="#111" stroke-width="1.3" fill="none"/>
<rect x="437.8" y="495.2" width="19.7" height="22.8" fill="#2b2b2b" stroke="#111" stroke-width="1.2"/>
<path d="M476.65 440.2 V437 M471.95 437 H481.35" stroke="#111" stroke-width="1.3" fill="none"/>
<rect x="466.8" y="440.2" width="19.7" height="77.8" fill="#b2b2b2" stroke="#111" stroke-width="1.2"/>
<path d="M505.55 473 V467.8 M500.85 467.8 H510.25" stroke="#111" stroke-width="1.3" fill="none"/>
<rect x="495.7" y="473" width="19.7" height="45" fill="#2b2b2b" stroke="#111" stroke-width="1.2"/>
<path d="M404.7 431.7 V518.1 H519" stroke="#050505" stroke-width="1.4" fill="none"/>
<text class="t" x="400.9" y="434.65" font-size="6.9" text-anchor="end">1250</text>
<text class="t" x="400.9" y="451.85" font-size="6.9" text-anchor="end">1000</text>
<text class="t" x="400.9" y="469.05" font-size="6.9" text-anchor="end">750</text>
<text class="t" x="400.9" y="486.25" font-size="6.9" text-anchor="end">500</text>
<text class="t" x="400.9" y="503.45" font-size="6.9" text-anchor="end">250</text>
<text class="t" x="400.9" y="520.45" font-size="6.9" text-anchor="end">0</text>
<path d="M404.7 432.2 h-3.3M404.7 449.4 h-3.3M404.7 466.6 h-3.3M404.7 483.8 h-3.3M404.7 501 h-3.3M404.7 518 h-3.3" stroke="#111" stroke-width="1.1" fill="none"/>
<path d="M415.4 456.5 H449.2" stroke="#1a1a1a" stroke-width="1.15" fill="none"/>
<text class="b" x="432.7" y="455.5" font-size="10.4" text-anchor="middle" letter-spacing="0.9">***</text>
<path d="M473.2 433.5 H507" stroke="#1a1a1a" stroke-width="1.15" fill="none"/>
<text class="b" x="491.2" y="431.9" font-size="10.4" text-anchor="middle" letter-spacing="0.9">**</text>
<path d="M409.2 523.6 H458.5" stroke="#111" stroke-width="1.25" fill="none"/>
<path d="M466.8 523.6 H515.4" stroke="#111" stroke-width="1.25" fill="none"/>
<text class="c" x="434.2" y="534.9" font-size="10.2" text-anchor="middle" >SPL</text>
<text class="c" x="489.5" y="534.9" font-size="10.2" text-anchor="middle" >LN</text>
<text class="c" transform="translate(380.3 472.5) rotate(-90)" font-size="9.9" text-anchor="middle">MFI</text>
<path d="M261.25 623.8 V611.5 M256.55 611.5 H265.95" stroke="#111" stroke-width="1.3" fill="none"/>
<rect x="251.7" y="623.8" width="19.1" height="34.8" fill="#909090" stroke="#111" stroke-width="1.2"/>
<path d="M289.7 580.2 V576.5 M285 576.5 H294.4" stroke="#111" stroke-width="1.3" fill="none"/>
<rect x="280" y="580.2" width="19.4" height="78.4" fill="#404040" stroke="#111" stroke-width="1.2"/>
<path d="M318 648.2 V647 M313.3 647 H322.7" stroke="#111" stroke-width="1.3" fill="none"/>
<rect x="308.3" y="648.2" width="19.4" height="10.4" fill="#909090" stroke="#111" stroke-width="1.2"/>
<path d="M346.65 614.6 V612.8 M341.95 612.8 H351.35" stroke="#111" stroke-width="1.3" fill="none"/>
<rect x="337" y="614.6" width="19.3" height="44" fill="#404040" stroke="#111" stroke-width="1.2"/>
<path d="M247.1 573.2 V658.7 H361.5" stroke="#050505" stroke-width="1.4" fill="none"/>
<text class="t" x="243.3" y="576.15" font-size="7.3" text-anchor="end">1250</text>
<text class="t" x="243.3" y="593.05" font-size="7.3" text-anchor="end">1000</text>
<text class="t" x="243.3" y="609.95" font-size="7.3" text-anchor="end">750</text>
<text class="t" x="243.3" y="626.95" font-size="7.3" text-anchor="end">500</text>
<text class="t" x="243.3" y="644.15" font-size="7.3" text-anchor="end">250</text>
<text class="t" x="243.3" y="661.05" font-size="7.3" text-anchor="end">0</text>
<path d="M247.1 573.7 h-3.3M247.1 590.6 h-3.3M247.1 607.5 h-3.3M247.1 624.5 h-3.3M247.1 641.7 h-3.3M247.1 658.6 h-3.3" stroke="#111" stroke-width="1.1" fill="none"/>
<path d="M258.5 572.5 H292.3" stroke="#1a1a1a" stroke-width="1.15" fill="none"/>
<text class="b" x="275.8" y="570.9" font-size="10.4" text-anchor="middle" letter-spacing="0.9">*</text>
<path d="M315.4 607.5 H349.2" stroke="#1a1a1a" stroke-width="1.15" fill="none"/>
<text class="b" x="332.7" y="606.9" font-size="10.4" text-anchor="middle" letter-spacing="0.9">***</text>
<path d="M250.8 663.6 H300" stroke="#111" stroke-width="1.25" fill="none"/>
<path d="M308.3 663.6 H357" stroke="#111" stroke-width="1.25" fill="none"/>
<text class="c" x="277" y="675.3" font-size="10.2" text-anchor="middle" >SPL</text>
<text class="c" x="331.7" y="675.3" font-size="10.2" text-anchor="middle" >LN</text>
<text class="c" transform="translate(226.5 615.5) rotate(-90)" font-size="9.9" text-anchor="middle">MFI</text>
<path d="M419.1 651 V649 M414.4 649 H423.8" stroke="#111" stroke-width="1.3" fill="none"/>
<rect x="409.2" y="651" width="19.8" height="7.6" fill="#909090" stroke="#111" stroke-width="1.2"/>
<path d="M447.65 596.2 V584.5 M442.95 584.5 H452.35" stroke="#111" stroke-width="1.3" fill="none"/>
<rect x="437.8" y="596.2" width="19.7" height="62.4" fill="#404040" stroke="#111" stroke-width="1.2"/>
<path d="M476.65 656.5 V655.2 M471.95 655.2 H481.35" stroke="#111" stroke-width="1.3" fill="none"/>
<rect x="466.8" y="656.5" width="19.7" height="2.1" fill="#909090" stroke="#111" stroke-width="1.2"/>
<path d="M505.55 644.8 V643 M500.85 643 H510.25" stroke="#111" stroke-width="1.3" fill="none"/>
<rect x="495.7" y="644.8" width="19.7" height="13.8" fill="#404040" stroke="#111" stroke-width="1.2"/>
<path d="M404.7 573.5 V658.7 H519" stroke="#050505" stroke-width="1.4" fill="none"/>
<text class="t" x="400.9" y="576.45" font-size="7.3" text-anchor="end">2500</text>
<text class="t" x="400.9" y="593.45" font-size="7.3" text-anchor="end">2000</text>
<text class="t" x="400.9" y="610.25" font-size="7.3" text-anchor="end">1500</text>
<text class="t" x="400.9" y="627.25" font-size="7.3" text-anchor="end">1000</text>
<text class="t" x="400.9" y="644.15" font-size="7.3" text-anchor="end">500</text>
<text class="t" x="400.9" y="661.05" font-size="7.3" text-anchor="end">0</text>
<path d="M404.7 574 h-3.3M404.7 591 h-3.3M404.7 607.8 h-3.3M404.7 624.8 h-3.3M404.7 641.7 h-3.3M404.7 658.6 h-3.3" stroke="#111" stroke-width="1.1" fill="none"/>
<path d="M416 580.5 H450.8" stroke="#1a1a1a" stroke-width="1.15" fill="none"/>
<text class="b" x="433.4" y="579.5" font-size="10.4" text-anchor="middle" letter-spacing="0.9">**</text>
<path d="M473.2 639.5 H507.7" stroke="#1a1a1a" stroke-width="1.15" fill="none"/>
<text class="b" x="491.2" y="638.6" font-size="10.4" text-anchor="middle" letter-spacing="0.9">***</text>
<path d="M409.2 663.6 H458.5" stroke="#111" stroke-width="1.25" fill="none"/>
<path d="M466.8 663.6 H516" stroke="#111" stroke-width="1.25" fill="none"/>
<text class="c" x="436" y="675.3" font-size="10.2" text-anchor="middle" >SPL</text>
<text class="c" x="490.3" y="675.3" font-size="10.2" text-anchor="middle" >LN</text>
<text class="c" transform="translate(381.5 616.3) rotate(-90)" font-size="9.9" text-anchor="middle">MFI</text>
<rect x="35" y="699" width="196.8" height="18.4" fill="#fff" stroke="#333" stroke-width="1.1"/>
<rect x="38.8" y="703.2" width="10" height="10.8" fill="#000" stroke="#222" stroke-width="0.9"/>
<text class="b" x="52.5" y="713.3" font-size="11.5" text-anchor="start" >SHIP<tspan dy="-4.6" font-size="8">ΔIP/ΔIP</tspan></text>
<rect x="116" y="703.2" width="10.2" height="10.8" fill="#707070" stroke="#222" stroke-width="0.9"/>
<text class="b" x="129.5" y="713.3" font-size="11.5" text-anchor="start" >SHIP<tspan dy="-4.6" font-size="8">+/+</tspan></text>
<rect x="175" y="703.2" width="10.5" height="10.8" fill="#c8c8c8" stroke="#555" stroke-width="0.9"/>
<text class="b" x="189.5" y="713.3" font-size="11.1" text-anchor="start" >Isotype</text>
<rect x="297.7" y="699.2" width="140" height="18.4" fill="#fff" stroke="#333" stroke-width="1.1"/>
<rect x="302.3" y="703.5" width="10.7" height="10.3" fill="#2b2b2b" stroke="#222" stroke-width="0.9"/>
<text class="b" x="316.2" y="713.2" font-size="11.6" text-anchor="start" >SHIP<tspan dy="-4.6" font-size="8">ΔIP/ΔIP</tspan></text>
<rect x="382.3" y="703.5" width="10.2" height="10.3" fill="#b2b2b2" stroke="#444" stroke-width="0.9"/>
<text class="b" x="395.5" y="713.2" font-size="11.6" text-anchor="start" >SHIP<tspan dy="-4.6" font-size="8">+/+</tspan></text>
</svg>
</body></html>
